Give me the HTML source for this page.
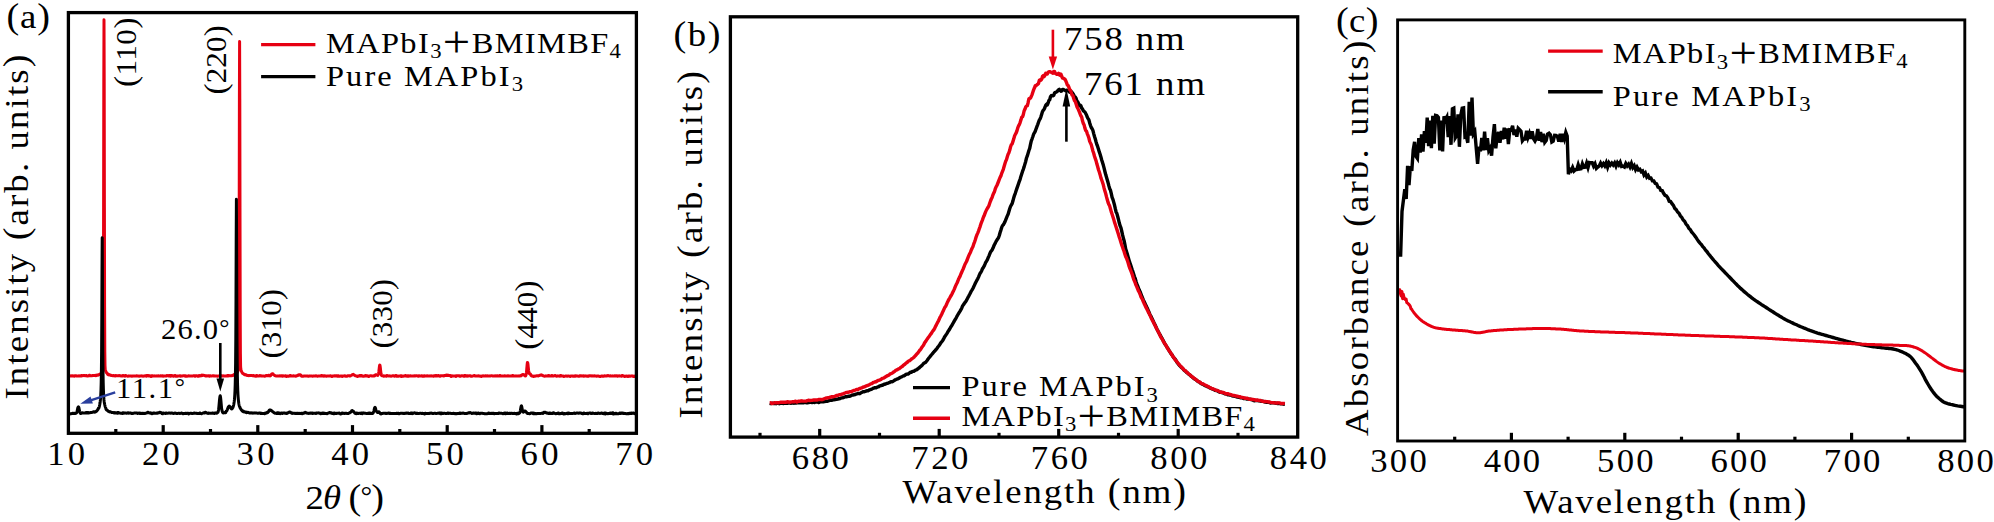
<!DOCTYPE html>
<html lang="en">
<head>
<meta charset="utf-8">
<title>XRD, PL and absorbance of MAPbI3 films</title>
<style>
html,body{margin:0;padding:0;background:#fff;}
body{width:1994px;height:522px;overflow:hidden;}
svg{display:block;}
svg text{font-family:"Liberation Serif", "DejaVu Serif", serif;fill:#000;white-space:pre;}
</style>
</head>
<body>
<svg width="1994" height="522" viewBox="0 0 1994 522">
<rect x="0" y="0" width="1994" height="522" fill="#fff"/>
<g id="panel-a">
<polyline points="68.4,376.0 68.6,376.0 68.8,376.0 69.0,376.0 69.2,376.0 69.4,376.0 69.6,376.0 69.8,376.0 70.0,375.9 70.2,375.9 70.4,375.9 70.6,375.9 70.8,375.8 71.0,375.8 71.2,375.8 71.4,375.8 71.6,375.9 71.8,375.9 72.0,375.9 72.2,375.9 72.4,375.7 72.6,375.7 72.8,375.7 73.0,375.7 73.2,376.0 73.4,376.0 73.6,376.0 73.8,376.0 74.0,376.2 74.2,376.2 74.4,376.2 74.6,376.2 74.8,375.8 75.0,375.8 75.2,375.8 75.4,375.8 75.6,375.8 75.8,375.8 76.0,375.8 76.2,375.8 76.4,376.1 76.6,376.1 76.8,376.1 77.0,376.1 77.2,376.0 77.4,376.0 77.6,376.0 77.8,376.0 78.0,376.0 78.2,376.0 78.4,376.0 78.6,376.0 78.8,375.7 79.0,375.7 79.2,375.7 79.4,375.7 79.6,375.9 79.8,375.9 80.0,375.9 80.2,375.9 80.4,376.1 80.6,376.1 80.8,376.1 81.0,376.1 81.2,375.6 81.4,375.6 81.6,375.6 81.8,375.6 82.0,375.8 82.2,375.8 82.4,375.8 82.6,375.8 82.8,375.5 83.0,375.5 83.2,375.5 83.4,375.5 83.6,375.6 83.8,375.6 84.0,375.6 84.2,375.6 84.4,375.5 84.6,375.5 84.8,375.5 85.0,375.5 85.2,375.8 85.4,375.8 85.6,375.8 85.8,375.8 86.0,375.6 86.2,375.6 86.4,375.6 86.6,375.6 86.8,375.9 87.0,375.9 87.2,375.9 87.4,375.9 87.6,375.9 87.8,375.9 88.0,375.9 88.2,375.9 88.4,375.8 88.6,375.8 88.8,375.8 89.0,375.8 89.2,375.3 89.4,375.3 89.6,375.3 89.8,375.3 90.0,375.7 90.2,375.7 90.4,375.7 90.6,375.7 90.8,375.8 91.0,375.8 91.2,375.8 91.4,375.7 91.6,375.8 91.8,375.8 92.0,375.8 92.2,375.8 92.4,375.4 92.6,375.4 92.8,375.4 93.0,375.4 93.2,375.6 93.4,375.6 93.6,375.5 93.8,375.5 94.0,375.4 94.2,375.4 94.4,375.4 94.6,375.4 94.8,375.4 95.0,375.4 95.2,375.3 95.4,375.3 95.6,375.7 95.8,375.7 96.0,375.7 96.2,375.6 96.4,375.2 96.6,375.2 96.8,375.1 97.0,375.1 97.2,375.2 97.4,375.2 97.6,375.1 97.8,375.1 98.0,375.2 98.2,375.2 98.4,375.1 98.6,375.1 98.8,374.7 99.0,374.6 99.2,374.5 99.4,374.4 99.6,374.4 99.8,374.3 100.0,374.2 100.2,374.0 100.4,373.9 100.6,373.7 100.8,373.5 101.0,373.3 101.2,373.0 101.4,372.8 101.6,372.4 101.8,372.1 102.0,371.4 102.2,370.9 102.4,370.4 102.6,369.8 102.8,369.1 103.0,365.9 103.2,352.4 103.4,307.0 103.6,207.8 103.8,81.3 104.0,19.8 104.2,81.3 104.4,207.2 104.6,306.7 104.8,352.0 105.0,365.6 105.2,369.2 105.4,370.2 105.6,370.9 105.8,371.4 106.0,371.7 106.2,372.1 106.4,372.5 106.6,372.8 106.8,372.9 107.0,373.1 107.2,373.4 107.4,373.6 107.6,374.3 107.8,374.5 108.0,374.6 108.2,374.7 108.4,374.6 108.6,374.7 108.8,374.8 109.0,374.9 109.2,374.5 109.4,374.6 109.6,374.7 109.8,374.7 110.0,375.1 110.2,375.1 110.4,375.2 110.6,375.2 110.8,375.4 111.0,375.4 111.2,375.4 111.4,375.5 111.6,375.3 111.8,375.4 112.0,375.4 112.2,375.4 112.4,375.6 112.6,375.7 112.8,375.7 113.0,375.7 113.2,375.5 113.4,375.6 113.6,375.6 113.8,375.6 114.0,375.8 114.2,375.8 114.4,375.8 114.6,375.8 114.8,376.0 115.0,376.0 115.2,376.0 115.4,376.0 115.6,375.6 115.8,375.6 116.0,375.6 116.2,375.6 116.4,375.8 116.6,375.8 116.8,375.8 117.0,375.8 117.2,375.7 117.4,375.7 117.6,375.7 117.8,375.7 118.0,375.8 118.2,375.8 118.4,375.8 118.6,375.8 118.8,375.6 119.0,375.6 119.2,375.6 119.4,375.6 119.6,375.7 119.8,375.7 120.0,375.7 120.2,375.7 120.4,375.8 120.6,375.8 120.8,375.8 121.0,375.8 121.2,376.1 121.4,376.1 121.6,376.1 121.8,376.1 122.0,376.1 122.2,376.1 122.4,376.1 122.6,376.1 122.8,375.6 123.0,375.6 123.2,375.6 123.4,375.6 123.6,375.7 123.8,375.7 124.0,375.7 124.2,375.7 124.4,376.0 124.6,376.0 124.8,376.0 125.0,376.1 125.2,375.5 125.4,375.5 125.6,375.5 125.8,375.5 126.0,375.8 126.2,375.8 126.4,375.8 126.6,375.8 126.8,375.9 127.0,375.9 127.2,375.9 127.4,375.9 127.6,376.2 127.8,376.2 128.0,376.2 128.2,376.2 128.4,376.1 128.6,376.1 128.8,376.1 129.0,376.1 129.2,375.9 129.4,375.9 129.6,375.9 129.8,375.9 130.0,375.9 130.2,375.9 130.4,375.9 130.6,375.9 130.8,375.9 131.0,375.9 131.2,375.9 131.4,375.9 131.6,376.3 131.8,376.3 132.0,376.3 132.2,376.3 132.4,375.9 132.6,375.9 132.8,375.9 133.0,375.9 133.2,375.9 133.4,375.9 133.6,375.9 133.8,375.9 134.0,376.0 134.2,376.0 134.4,376.0 134.6,376.0 134.8,375.9 135.0,375.9 135.2,375.9 135.4,375.9 135.6,375.9 135.8,375.9 136.0,375.9 136.2,375.9 136.4,375.7 136.6,375.7 136.8,375.7 137.0,375.7 137.2,376.0 137.4,376.0 137.6,376.0 137.8,376.0 138.0,375.9 138.2,375.9 138.4,375.9 138.6,375.9 138.8,376.2 139.0,376.2 139.2,376.2 139.4,376.2 139.6,376.1 139.8,376.1 140.0,376.1 140.2,376.1 140.4,376.0 140.6,376.0 140.8,376.0 141.0,376.0 141.2,376.1 141.4,376.1 141.6,376.1 141.8,376.1 142.0,375.9 142.2,375.9 142.4,375.9 142.6,375.9 142.8,376.2 143.0,376.2 143.2,376.2 143.4,376.2 143.6,376.0 143.8,376.0 144.0,376.0 144.2,376.0 144.4,376.1 144.6,376.1 144.8,376.1 145.0,376.1 145.2,375.7 145.4,375.7 145.6,375.7 145.8,375.7 146.0,376.0 146.2,376.0 146.4,376.0 146.6,376.1 146.8,375.6 147.0,375.6 147.2,375.6 147.4,375.6 147.6,375.5 147.8,375.5 148.0,375.5 148.2,375.5 148.4,375.9 148.6,375.9 148.8,375.9 149.0,375.9 149.2,375.8 149.4,375.8 149.6,375.8 149.8,375.8 150.0,376.0 150.2,376.0 150.4,376.0 150.6,376.0 150.8,376.5 151.0,376.5 151.2,376.5 151.4,376.5 151.6,375.8 151.8,375.8 152.0,375.8 152.2,375.8 152.4,375.8 152.6,375.8 152.8,375.8 153.0,375.8 153.2,376.0 153.4,376.0 153.6,376.0 153.8,376.0 154.0,376.1 154.2,376.1 154.4,376.1 154.6,376.1 154.8,375.9 155.0,375.9 155.2,375.9 155.4,375.9 155.6,375.9 155.8,375.9 156.0,375.9 156.2,375.9 156.4,376.1 156.6,376.1 156.8,376.1 157.0,376.1 157.2,376.1 157.4,376.1 157.6,376.1 157.8,376.1 158.0,375.8 158.2,375.8 158.4,375.8 158.6,375.8 158.8,376.0 159.0,376.0 159.2,376.0 159.4,376.0 159.6,376.0 159.8,376.0 160.0,376.0 160.2,376.0 160.4,375.7 160.6,375.7 160.8,375.7 161.0,375.7 161.2,376.0 161.4,376.0 161.6,376.0 161.8,376.0 162.0,375.8 162.2,375.8 162.4,375.8 162.6,375.8 162.8,376.2 163.0,376.2 163.2,376.2 163.4,376.2 163.6,376.0 163.8,376.0 164.0,376.0 164.2,376.0 164.4,376.0 164.6,376.0 164.8,376.0 165.0,376.0 165.2,375.9 165.4,375.9 165.6,375.9 165.8,375.9 166.0,376.0 166.2,376.0 166.4,376.0 166.6,376.0 166.8,375.5 167.0,375.5 167.2,375.5 167.4,375.5 167.6,375.7 167.8,375.7 168.0,375.7 168.2,375.7 168.4,376.1 168.6,376.1 168.8,376.1 169.0,376.1 169.2,375.5 169.4,375.5 169.6,375.5 169.8,375.5 170.0,376.2 170.2,376.2 170.4,376.2 170.6,376.2 170.8,375.6 171.0,375.6 171.2,375.6 171.4,375.6 171.6,376.1 171.8,376.1 172.0,376.1 172.2,376.1 172.4,375.8 172.6,375.8 172.8,375.8 173.0,375.8 173.2,376.2 173.4,376.2 173.6,376.2 173.8,376.2 174.0,376.0 174.2,376.0 174.4,376.0 174.6,376.0 174.8,375.6 175.0,375.6 175.2,375.6 175.4,375.6 175.6,376.3 175.8,376.3 176.0,376.3 176.2,376.3 176.4,376.3 176.6,376.3 176.8,376.3 177.0,376.3 177.2,376.0 177.4,376.0 177.6,376.0 177.8,376.0 178.0,375.9 178.2,375.9 178.4,375.9 178.6,375.9 178.8,375.9 179.0,375.9 179.2,375.9 179.4,375.9 179.6,375.8 179.8,375.8 180.0,375.8 180.2,375.8 180.4,376.2 180.6,376.2 180.8,376.2 181.0,376.2 181.2,375.9 181.4,375.9 181.6,375.9 181.8,375.9 182.0,376.0 182.2,376.0 182.4,376.0 182.6,376.0 182.8,375.8 183.0,375.8 183.2,375.8 183.4,375.8 183.6,375.8 183.8,375.8 184.0,375.8 184.2,375.8 184.4,375.7 184.6,375.7 184.8,375.7 185.0,375.7 185.2,376.3 185.4,376.3 185.6,376.3 185.8,376.3 186.0,375.9 186.2,375.9 186.4,375.9 186.6,375.9 186.8,376.2 187.0,376.2 187.2,376.2 187.4,376.2 187.6,376.0 187.8,376.0 188.0,376.0 188.2,376.0 188.4,375.8 188.6,375.8 188.8,375.8 189.0,375.8 189.2,375.9 189.4,375.9 189.6,375.9 189.8,375.9 190.0,375.9 190.2,375.9 190.4,375.9 190.6,375.9 190.8,376.0 191.0,376.0 191.2,376.0 191.4,376.0 191.6,375.9 191.8,375.9 192.0,375.9 192.2,375.9 192.4,375.9 192.6,375.9 192.8,375.9 193.0,375.9 193.2,375.7 193.4,375.7 193.6,375.7 193.8,375.7 194.0,375.8 194.2,375.8 194.4,375.8 194.6,375.8 194.8,376.3 195.0,376.3 195.2,376.3 195.4,376.3 195.6,375.8 195.8,375.8 196.0,375.8 196.2,375.8 196.4,375.7 196.6,375.7 196.8,375.7 197.0,375.7 197.2,376.0 197.4,376.0 197.6,376.0 197.8,376.0 198.0,376.3 198.2,376.3 198.4,376.3 198.6,376.3 198.8,375.7 199.0,375.6 199.2,375.6 199.4,375.6 199.6,375.9 199.8,375.9 200.0,375.9 200.2,375.9 200.4,375.8 200.6,375.7 200.8,375.7 201.0,375.6 201.2,375.3 201.4,375.3 201.6,375.2 201.8,375.1 202.0,375.6 202.2,375.5 202.4,375.4 202.6,375.4 202.8,375.2 203.0,375.2 203.2,375.2 203.4,375.2 203.6,375.3 203.8,375.3 204.0,375.4 204.2,375.5 204.4,375.4 204.6,375.5 204.8,375.5 205.0,375.6 205.2,375.9 205.4,376.0 205.6,376.0 205.8,376.0 206.0,375.8 206.2,375.8 206.4,375.8 206.6,375.8 206.8,375.9 207.0,375.9 207.2,375.9 207.4,375.9 207.6,375.7 207.8,375.7 208.0,375.7 208.2,375.7 208.4,375.7 208.6,375.7 208.8,375.7 209.0,375.7 209.2,376.2 209.4,376.2 209.6,376.2 209.8,376.2 210.0,375.8 210.2,375.8 210.4,375.8 210.6,375.8 210.8,376.0 211.0,376.0 211.2,376.0 211.4,376.0 211.6,375.9 211.8,375.9 212.0,375.9 212.2,375.9 212.4,375.8 212.6,375.8 212.8,375.8 213.0,375.8 213.2,375.8 213.4,375.8 213.6,375.8 213.8,375.8 214.0,376.1 214.2,376.1 214.4,376.1 214.6,376.1 214.8,375.9 215.0,375.9 215.2,375.9 215.4,375.9 215.6,375.9 215.8,375.9 216.0,375.9 216.2,375.9 216.4,375.9 216.6,375.9 216.8,375.9 217.0,375.9 217.2,376.2 217.4,376.2 217.6,376.2 217.8,376.2 218.0,376.1 218.2,376.1 218.4,376.1 218.6,376.1 218.8,376.0 219.0,376.0 219.2,376.0 219.4,376.0 219.6,375.8 219.8,375.8 220.0,375.8 220.2,375.8 220.4,375.6 220.6,375.6 220.8,375.6 221.0,375.6 221.2,376.1 221.4,376.1 221.6,376.1 221.8,376.1 222.0,376.1 222.2,376.1 222.4,376.1 222.6,376.1 222.8,375.8 223.0,375.8 223.2,375.8 223.4,375.8 223.6,376.0 223.8,376.0 224.0,376.0 224.2,376.0 224.4,376.0 224.6,376.0 224.8,376.0 225.0,376.0 225.2,376.0 225.4,376.0 225.6,376.0 225.8,376.0 226.0,376.0 226.2,376.0 226.4,376.0 226.6,376.0 226.8,375.7 227.0,375.7 227.2,375.6 227.4,375.6 227.6,376.1 227.8,376.1 228.0,376.0 228.2,376.0 228.4,375.4 228.6,375.4 228.8,375.4 229.0,375.4 229.2,375.8 229.4,375.8 229.6,375.8 229.8,375.8 230.0,375.7 230.2,375.7 230.4,375.7 230.6,375.7 230.8,375.7 231.0,375.7 231.2,375.7 231.4,375.6 231.6,375.8 231.8,375.8 232.0,375.8 232.2,375.8 232.4,375.6 232.6,375.6 232.8,375.6 233.0,375.5 233.2,374.9 233.4,374.9 233.6,374.8 233.8,374.7 234.0,374.6 234.2,374.5 234.4,374.4 234.6,374.3 234.8,374.8 235.0,374.7 235.2,374.6 235.4,374.5 235.6,374.0 235.8,373.8 236.0,373.6 236.2,373.5 236.4,373.5 236.6,373.3 236.8,373.0 237.0,372.7 237.2,372.6 237.4,372.3 237.6,371.9 237.8,371.4 238.0,370.3 238.2,369.7 238.4,368.7 238.6,365.7 238.8,352.9 239.0,310.3 239.2,217.1 239.4,98.4 239.6,41.4 239.8,99.0 240.0,217.6 240.2,310.8 240.4,353.4 240.6,366.1 240.8,369.1 241.0,370.1 241.2,370.6 241.4,371.2 241.6,371.6 241.8,372.0 242.0,372.4 242.2,372.8 242.4,373.0 242.6,373.3 242.8,373.3 243.0,373.5 243.2,373.7 243.4,373.8 243.6,373.8 243.8,374.0 244.0,374.1 244.2,374.2 244.4,374.6 244.6,374.7 244.8,374.8 245.0,374.8 245.2,374.7 245.4,374.8 245.6,374.8 245.8,374.9 246.0,374.8 246.2,374.8 246.4,374.9 246.6,374.9 246.8,375.4 247.0,375.5 247.2,375.5 247.4,375.5 247.6,375.4 247.8,375.4 248.0,375.5 248.2,375.5 248.4,375.6 248.6,375.6 248.8,375.7 249.0,375.7 249.2,375.4 249.4,375.4 249.6,375.4 249.8,375.4 250.0,375.5 250.2,375.5 250.4,375.5 250.6,375.5 250.8,375.5 251.0,375.5 251.2,375.5 251.4,375.5 251.6,375.5 251.8,375.5 252.0,375.6 252.2,375.6 252.4,375.8 252.6,375.8 252.8,375.8 253.0,375.8 253.2,375.6 253.4,375.6 253.6,375.6 253.8,375.6 254.0,375.9 254.2,375.9 254.4,375.9 254.6,375.9 254.8,375.9 255.0,375.9 255.2,375.9 255.4,375.9 255.6,376.3 255.8,376.3 256.0,376.3 256.2,376.3 256.4,375.6 256.6,375.6 256.8,375.6 257.0,375.6 257.2,376.1 257.4,376.1 257.6,376.1 257.8,376.1 258.0,375.9 258.2,375.9 258.4,375.9 258.6,375.9 258.8,375.9 259.0,375.9 259.2,375.9 259.4,375.9 259.6,375.6 259.8,375.6 260.0,375.6 260.2,375.6 260.4,375.8 260.6,375.8 260.8,375.8 261.0,375.8 261.2,376.1 261.4,376.1 261.6,376.1 261.8,376.1 262.0,375.9 262.2,375.9 262.4,375.9 262.6,375.9 262.8,375.9 263.0,375.9 263.2,375.9 263.4,375.9 263.6,375.9 263.8,375.9 264.0,375.9 264.2,375.9 264.4,376.2 264.6,376.2 264.8,376.2 265.0,376.2 265.2,375.9 265.4,375.9 265.6,375.9 265.8,375.9 266.0,375.5 266.2,375.5 266.4,375.5 266.6,375.5 266.8,375.8 267.0,375.8 267.2,375.8 267.4,375.8 267.6,375.5 267.8,375.5 268.0,375.5 268.2,375.5 268.4,375.2 268.6,375.2 268.8,375.2 269.0,375.2 269.2,375.8 269.4,375.7 269.6,375.7 269.8,375.6 270.0,375.9 270.2,375.8 270.4,375.7 270.6,375.6 270.8,375.1 271.0,374.9 271.2,374.8 271.4,374.6 271.6,374.1 271.8,374.0 272.0,373.8 272.2,373.8 272.4,373.8 272.6,373.8 272.8,373.8 273.0,373.9 273.2,374.5 273.4,374.6 273.6,374.8 273.8,375.0 274.0,375.0 274.2,375.1 274.4,375.3 274.6,375.5 274.8,375.6 275.0,375.7 275.2,375.7 275.4,375.8 275.6,375.8 275.8,375.9 276.0,375.9 276.2,375.9 276.4,376.0 276.6,376.0 276.8,376.0 277.0,376.0 277.2,376.1 277.4,376.1 277.6,376.1 277.8,376.1 278.0,376.1 278.2,376.1 278.4,376.1 278.6,376.1 278.8,376.0 279.0,376.0 279.2,376.0 279.4,376.0 279.6,375.7 279.8,375.7 280.0,375.7 280.2,375.7 280.4,376.1 280.6,376.1 280.8,376.1 281.0,376.1 281.2,375.8 281.4,375.8 281.6,375.8 281.8,375.8 282.0,376.2 282.2,376.2 282.4,376.2 282.6,376.2 282.8,375.7 283.0,375.7 283.2,375.7 283.4,375.7 283.6,375.9 283.8,375.9 284.0,375.9 284.2,375.9 284.4,376.0 284.6,376.0 284.8,376.0 285.0,376.0 285.2,375.7 285.4,375.7 285.6,375.7 285.8,375.7 286.0,376.4 286.2,376.4 286.4,376.4 286.6,376.4 286.8,376.3 287.0,376.3 287.2,376.3 287.4,376.3 287.6,375.9 287.8,375.9 288.0,375.9 288.2,375.9 288.4,376.2 288.6,376.2 288.8,376.2 289.0,376.2 289.2,376.1 289.4,376.1 289.6,376.1 289.8,376.1 290.0,375.4 290.2,375.4 290.4,375.4 290.6,375.4 290.8,376.0 291.0,376.0 291.2,376.0 291.4,376.0 291.6,376.0 291.8,376.0 292.0,376.0 292.2,376.0 292.4,376.0 292.6,376.0 292.8,376.0 293.0,376.0 293.2,375.7 293.4,375.7 293.6,375.7 293.8,375.7 294.0,375.9 294.2,375.9 294.4,375.9 294.6,375.9 294.8,375.9 295.0,375.9 295.2,375.9 295.4,375.9 295.6,376.2 295.8,376.2 296.0,376.2 296.2,376.1 296.4,375.9 296.6,375.8 296.8,375.8 297.0,375.7 297.2,375.5 297.4,375.4 297.6,375.3 297.8,375.2 298.0,375.4 298.2,375.3 298.4,375.2 298.6,375.2 298.8,374.7 299.0,374.7 299.2,374.7 299.4,374.7 299.6,374.8 299.8,374.9 300.0,375.0 300.2,375.1 300.4,374.9 300.6,375.0 300.8,375.1 301.0,375.2 301.2,376.0 301.4,376.1 301.6,376.2 301.8,376.2 302.0,376.1 302.2,376.1 302.4,376.2 302.6,376.2 302.8,376.2 303.0,376.2 303.2,376.2 303.4,376.2 303.6,376.1 303.8,376.1 304.0,376.1 304.2,376.1 304.4,376.0 304.6,376.0 304.8,376.0 305.0,376.0 305.2,376.0 305.4,376.0 305.6,376.0 305.8,376.0 306.0,375.9 306.2,375.9 306.4,375.9 306.6,375.9 306.8,375.9 307.0,375.9 307.2,375.9 307.4,375.9 307.6,376.0 307.8,376.0 308.0,376.0 308.2,376.0 308.4,376.3 308.6,376.3 308.8,376.3 309.0,376.3 309.2,376.1 309.4,376.1 309.6,376.1 309.8,376.1 310.0,376.0 310.2,376.0 310.4,376.0 310.6,376.0 310.8,375.9 311.0,375.9 311.2,375.9 311.4,375.9 311.6,375.9 311.8,375.9 312.0,375.9 312.2,375.9 312.4,376.3 312.6,376.3 312.8,376.3 313.0,376.3 313.2,376.1 313.4,376.1 313.6,376.1 313.8,376.1 314.0,376.0 314.2,376.0 314.4,376.0 314.6,376.0 314.8,375.9 315.0,375.9 315.2,375.9 315.4,375.9 315.6,375.7 315.8,375.7 316.0,375.7 316.2,375.7 316.4,376.0 316.6,376.0 316.8,376.0 317.0,376.0 317.2,376.2 317.4,376.2 317.6,376.2 317.8,376.2 318.0,375.9 318.2,375.9 318.4,375.9 318.6,375.9 318.8,375.9 319.0,375.9 319.2,375.9 319.4,375.9 319.6,375.9 319.8,375.9 320.0,375.9 320.2,375.9 320.4,376.0 320.6,376.0 320.8,376.0 321.0,376.0 321.2,375.6 321.4,375.6 321.6,375.6 321.8,375.6 322.0,375.9 322.2,375.9 322.4,375.9 322.6,375.9 322.8,375.8 323.0,375.8 323.2,375.8 323.4,375.8 323.6,376.2 323.8,376.2 324.0,376.2 324.2,376.2 324.4,375.8 324.6,375.8 324.8,375.8 325.0,375.8 325.2,376.1 325.4,376.1 325.6,376.1 325.8,376.1 326.0,376.3 326.2,376.3 326.4,376.3 326.6,376.3 326.8,375.9 327.0,375.9 327.2,375.9 327.4,375.9 327.6,375.9 327.8,375.9 328.0,375.9 328.2,375.9 328.4,376.0 328.6,376.0 328.8,376.0 329.0,376.0 329.2,376.0 329.4,376.0 329.6,376.0 329.8,376.0 330.0,375.8 330.2,375.8 330.4,375.8 330.6,375.8 330.8,376.1 331.0,376.1 331.2,376.1 331.4,376.1 331.6,376.4 331.8,376.4 332.0,376.4 332.2,376.4 332.4,375.9 332.6,375.9 332.8,375.9 333.0,375.9 333.2,376.0 333.4,376.0 333.6,376.0 333.8,376.0 334.0,375.8 334.2,375.8 334.4,375.8 334.6,375.8 334.8,376.1 335.0,376.1 335.2,376.1 335.4,376.1 335.6,375.7 335.8,375.7 336.0,375.7 336.2,375.7 336.4,375.8 336.6,375.8 336.8,375.8 337.0,375.8 337.2,376.3 337.4,376.3 337.6,376.3 337.8,376.3 338.0,375.8 338.2,375.8 338.4,375.8 338.6,375.8 338.8,376.2 339.0,376.2 339.2,376.2 339.4,376.2 339.6,376.3 339.8,376.3 340.0,376.3 340.2,376.3 340.4,376.1 340.6,376.1 340.8,376.1 341.0,376.1 341.2,376.1 341.4,376.1 341.6,376.1 341.8,376.1 342.0,376.4 342.2,376.4 342.4,376.4 342.6,376.4 342.8,376.0 343.0,376.0 343.2,376.0 343.4,376.0 343.6,375.9 343.8,375.9 344.0,375.9 344.2,375.9 344.4,375.7 344.6,375.7 344.8,375.7 345.0,375.7 345.2,376.0 345.4,376.0 345.6,376.0 345.8,376.0 346.0,376.3 346.2,376.3 346.4,376.3 346.6,376.3 346.8,376.2 347.0,376.2 347.2,376.2 347.4,376.2 347.6,375.8 347.8,375.8 348.0,375.8 348.2,375.8 348.4,375.8 348.6,375.8 348.8,375.8 349.0,375.8 349.2,375.9 349.4,375.9 349.6,375.8 349.8,375.8 350.0,376.0 350.2,375.9 350.4,375.9 350.6,375.8 350.8,375.6 351.0,375.5 351.2,375.4 351.4,375.2 351.6,375.2 351.8,375.1 352.0,374.9 352.2,374.8 352.4,374.7 352.6,374.6 352.8,374.6 353.0,374.6 353.2,374.4 353.4,374.5 353.6,374.6 353.8,374.7 354.0,374.9 354.2,375.0 354.4,375.1 354.6,375.3 354.8,375.5 355.0,375.6 355.2,375.7 355.4,375.8 355.6,375.8 355.8,375.8 356.0,375.9 356.2,375.9 356.4,376.1 356.6,376.1 356.8,376.1 357.0,376.1 357.2,376.4 357.4,376.4 357.6,376.4 357.8,376.4 358.0,376.1 358.2,376.1 358.4,376.1 358.6,376.1 358.8,376.0 359.0,376.0 359.2,376.0 359.4,376.0 359.6,375.6 359.8,375.6 360.0,375.6 360.2,375.6 360.4,376.1 360.6,376.1 360.8,376.1 361.0,376.1 361.2,375.6 361.4,375.6 361.6,375.6 361.8,375.6 362.0,375.7 362.2,375.7 362.4,375.7 362.6,375.7 362.8,376.2 363.0,376.2 363.2,376.2 363.4,376.2 363.6,376.2 363.8,376.2 364.0,376.2 364.2,376.2 364.4,376.0 364.6,376.0 364.8,376.0 365.0,376.0 365.2,375.6 365.4,375.6 365.6,375.6 365.8,375.6 366.0,375.9 366.2,375.9 366.4,375.9 366.6,375.9 366.8,375.8 367.0,375.8 367.2,375.8 367.4,375.8 367.6,376.1 367.8,376.1 368.0,376.1 368.2,376.1 368.4,376.5 368.6,376.5 368.8,376.5 369.0,376.5 369.2,376.0 369.4,376.0 369.6,376.0 369.8,376.0 370.0,375.8 370.2,375.8 370.4,375.8 370.6,375.8 370.8,375.7 371.0,375.7 371.2,375.7 371.4,375.7 371.6,376.0 371.8,376.0 372.0,376.0 372.2,376.0 372.4,376.0 372.6,376.0 372.8,376.0 373.0,376.0 373.2,375.7 373.4,375.7 373.6,375.7 373.8,375.7 374.0,376.0 374.2,375.9 374.4,375.9 374.6,375.8 374.8,375.4 375.0,375.3 375.2,375.1 375.4,374.9 375.6,375.2 375.8,375.1 376.0,374.9 376.2,374.8 376.4,374.7 376.6,374.7 376.8,374.8 377.0,374.9 377.2,375.1 377.4,375.2 377.6,375.3 377.8,375.4 378.0,375.0 378.2,374.7 378.4,374.2 378.6,373.2 378.8,372.0 379.0,370.3 379.2,368.5 379.4,366.7 379.6,365.4 379.8,365.0 380.0,365.4 380.2,366.6 380.4,368.3 380.6,370.2 380.8,371.9 381.0,373.4 381.2,374.4 381.4,375.1 381.6,375.5 381.8,375.7 382.0,375.6 382.2,375.7 382.4,375.7 382.6,375.7 382.8,375.7 383.0,375.7 383.2,375.7 383.4,375.7 383.6,376.2 383.8,376.2 384.0,376.2 384.2,376.2 384.4,376.0 384.6,376.0 384.8,376.0 385.0,376.0 385.2,376.0 385.4,376.0 385.6,376.0 385.8,376.0 386.0,376.2 386.2,376.2 386.4,376.2 386.6,376.2 386.8,375.6 387.0,375.6 387.2,375.6 387.4,375.6 387.6,375.8 387.8,375.8 388.0,375.8 388.2,375.8 388.4,376.0 388.6,376.0 388.8,376.0 389.0,376.0 389.2,376.1 389.4,376.1 389.6,376.1 389.8,376.1 390.0,375.9 390.2,375.9 390.4,375.9 390.6,375.9 390.8,376.2 391.0,376.2 391.2,376.2 391.4,376.2 391.6,376.0 391.8,376.0 392.0,376.0 392.2,376.0 392.4,375.7 392.6,375.7 392.8,375.7 393.0,375.7 393.2,375.8 393.4,375.8 393.6,375.8 393.8,375.8 394.0,376.2 394.2,376.2 394.4,376.2 394.6,376.2 394.8,376.1 395.0,376.1 395.2,376.1 395.4,376.1 395.6,375.6 395.8,375.6 396.0,375.6 396.2,375.6 396.4,376.3 396.6,376.3 396.8,376.3 397.0,376.3 397.2,376.1 397.4,376.1 397.6,376.1 397.8,376.1 398.0,376.3 398.2,376.3 398.4,376.3 398.6,376.3 398.8,375.9 399.0,375.9 399.2,375.9 399.4,375.9 399.6,375.9 399.8,375.9 400.0,375.9 400.2,375.9 400.4,375.8 400.6,375.8 400.8,375.8 401.0,375.8 401.2,376.6 401.4,376.6 401.6,376.6 401.8,376.6 402.0,376.0 402.2,376.0 402.4,376.0 402.6,376.0 402.8,376.3 403.0,376.3 403.2,376.3 403.4,376.3 403.6,375.9 403.8,375.9 404.0,375.9 404.2,375.9 404.4,376.0 404.6,376.0 404.8,376.0 405.0,376.0 405.2,375.6 405.4,375.6 405.6,375.6 405.8,375.6 406.0,375.9 406.2,375.9 406.4,375.9 406.6,375.9 406.8,376.2 407.0,376.2 407.2,376.2 407.4,376.2 407.6,375.7 407.8,375.7 408.0,375.7 408.2,375.7 408.4,376.2 408.6,376.2 408.8,376.2 409.0,376.2 409.2,376.1 409.4,376.1 409.6,376.1 409.8,376.1 410.0,375.8 410.2,375.8 410.4,375.8 410.6,375.8 410.8,375.9 411.0,375.9 411.2,375.9 411.4,375.9 411.6,375.9 411.8,375.9 412.0,375.9 412.2,375.9 412.4,376.0 412.6,376.0 412.8,376.0 413.0,376.0 413.2,375.9 413.4,375.9 413.6,375.9 413.8,375.9 414.0,375.8 414.2,375.8 414.4,375.8 414.6,375.8 414.8,375.9 415.0,375.9 415.2,375.9 415.4,375.9 415.6,375.8 415.8,375.8 416.0,375.8 416.2,375.8 416.4,375.7 416.6,375.7 416.8,375.7 417.0,375.7 417.2,376.0 417.4,376.0 417.6,376.0 417.8,376.0 418.0,376.2 418.2,376.2 418.4,376.2 418.6,376.2 418.8,375.7 419.0,375.7 419.2,375.7 419.4,375.7 419.6,376.0 419.8,376.0 420.0,376.0 420.2,376.0 420.4,375.9 420.6,375.9 420.8,375.9 421.0,375.9 421.2,375.8 421.4,375.8 421.6,375.8 421.8,375.8 422.0,376.2 422.2,376.2 422.4,376.2 422.6,376.2 422.8,375.9 423.0,375.9 423.2,375.9 423.4,375.9 423.6,376.3 423.8,376.3 424.0,376.3 424.2,376.3 424.4,375.8 424.6,375.8 424.8,375.8 425.0,375.8 425.2,376.1 425.4,376.1 425.6,376.1 425.8,376.1 426.0,375.9 426.2,375.9 426.4,375.9 426.6,375.9 426.8,375.8 427.0,375.8 427.2,375.8 427.4,375.8 427.6,376.1 427.8,376.1 428.0,376.1 428.2,376.1 428.4,376.0 428.6,376.0 428.8,376.0 429.0,376.0 429.2,376.1 429.4,376.1 429.6,376.1 429.8,376.1 430.0,376.0 430.2,376.0 430.4,376.0 430.6,376.0 430.8,375.8 431.0,375.8 431.2,375.8 431.4,375.8 431.6,376.0 431.8,376.0 432.0,376.0 432.2,376.0 432.4,376.0 432.6,376.0 432.8,376.0 433.0,376.0 433.2,376.2 433.4,376.2 433.6,376.2 433.8,376.2 434.0,375.8 434.2,375.8 434.4,375.8 434.6,375.8 434.8,376.0 435.0,376.0 435.2,376.0 435.4,376.0 435.6,375.6 435.8,375.6 436.0,375.6 436.2,375.6 436.4,376.1 436.6,376.1 436.8,376.1 437.0,376.1 437.2,375.8 437.4,375.8 437.6,375.8 437.8,375.8 438.0,375.6 438.2,375.6 438.4,375.6 438.6,375.6 438.8,376.0 439.0,376.0 439.2,376.0 439.4,376.0 439.6,376.2 439.8,376.2 440.0,376.2 440.2,376.2 440.4,375.7 440.6,375.7 440.8,375.7 441.0,375.7 441.2,375.8 441.4,375.8 441.6,375.8 441.8,375.8 442.0,375.8 442.2,375.8 442.4,375.8 442.6,375.8 442.8,375.7 443.0,375.7 443.2,375.7 443.4,375.7 443.6,376.0 443.8,376.0 444.0,376.0 444.2,375.9 444.4,375.6 444.6,375.6 444.8,375.5 445.0,375.5 445.2,375.5 445.4,375.4 445.6,375.3 445.8,375.3 446.0,375.5 446.2,375.4 446.4,375.4 446.6,375.4 446.8,375.0 447.0,375.0 447.2,375.0 447.4,375.1 447.6,375.4 447.8,375.4 448.0,375.5 448.2,375.5 448.4,375.3 448.6,375.3 448.8,375.4 449.0,375.5 449.2,375.5 449.4,375.5 449.6,375.6 449.8,375.6 450.0,375.5 450.2,375.5 450.4,375.5 450.6,375.6 450.8,376.4 451.0,376.4 451.2,376.4 451.4,376.4 451.6,375.9 451.8,375.9 452.0,375.9 452.2,375.9 452.4,376.1 452.6,376.1 452.8,376.1 453.0,376.1 453.2,376.0 453.4,376.0 453.6,376.0 453.8,376.0 454.0,376.0 454.2,376.0 454.4,376.0 454.6,376.0 454.8,376.0 455.0,376.0 455.2,376.0 455.4,376.0 455.6,376.4 455.8,376.4 456.0,376.4 456.2,376.4 456.4,375.8 456.6,375.8 456.8,375.8 457.0,375.8 457.2,375.7 457.4,375.7 457.6,375.7 457.8,375.7 458.0,375.8 458.2,375.8 458.4,375.8 458.6,375.8 458.8,375.7 459.0,375.7 459.2,375.7 459.4,375.7 459.6,376.2 459.8,376.2 460.0,376.2 460.2,376.2 460.4,376.2 460.6,376.2 460.8,376.2 461.0,376.2 461.2,375.8 461.4,375.8 461.6,375.8 461.8,375.8 462.0,375.7 462.2,375.7 462.4,375.7 462.6,375.7 462.8,375.9 463.0,375.9 463.2,375.9 463.4,375.9 463.6,376.3 463.8,376.3 464.0,376.3 464.2,376.3 464.4,375.4 464.6,375.4 464.8,375.4 465.0,375.4 465.2,376.1 465.4,376.1 465.6,376.1 465.8,376.1 466.0,375.8 466.2,375.8 466.4,375.8 466.6,375.8 466.8,376.2 467.0,376.2 467.2,376.2 467.4,376.2 467.6,375.8 467.8,375.8 468.0,375.8 468.2,375.8 468.4,375.9 468.6,375.9 468.8,375.9 469.0,375.9 469.2,375.7 469.4,375.7 469.6,375.7 469.8,375.7 470.0,375.8 470.2,375.8 470.4,375.8 470.6,375.8 470.8,376.3 471.0,376.3 471.2,376.3 471.4,376.3 471.6,376.2 471.8,376.2 472.0,376.2 472.2,376.2 472.4,375.9 472.6,375.9 472.8,375.9 473.0,375.9 473.2,375.8 473.4,375.8 473.6,375.8 473.8,375.8 474.0,375.6 474.2,375.6 474.4,375.6 474.6,375.6 474.8,375.9 475.0,375.9 475.2,375.9 475.4,375.9 475.6,376.0 475.8,376.0 476.0,376.0 476.2,376.0 476.4,376.0 476.6,376.0 476.8,376.0 477.0,376.0 477.2,376.0 477.4,376.0 477.6,376.0 477.8,376.0 478.0,375.8 478.2,375.8 478.4,375.8 478.6,375.8 478.8,376.0 479.0,376.0 479.2,376.0 479.4,376.0 479.6,376.0 479.8,376.0 480.0,376.0 480.2,376.0 480.4,376.3 480.6,376.3 480.8,376.3 481.0,376.3 481.2,376.4 481.4,376.4 481.6,376.4 481.8,376.4 482.0,376.0 482.2,376.0 482.4,376.0 482.6,376.0 482.8,375.8 483.0,375.8 483.2,375.8 483.4,375.8 483.6,376.0 483.8,376.0 484.0,376.0 484.2,376.0 484.4,375.9 484.6,375.9 484.8,375.9 485.0,375.9 485.2,375.8 485.4,375.8 485.6,375.8 485.8,375.8 486.0,376.0 486.2,376.0 486.4,376.0 486.6,376.0 486.8,375.8 487.0,375.8 487.2,375.8 487.4,375.8 487.6,376.1 487.8,376.1 488.0,376.1 488.2,376.1 488.4,376.0 488.6,376.0 488.8,376.0 489.0,376.0 489.2,376.1 489.4,376.1 489.6,376.1 489.8,376.1 490.0,376.0 490.2,376.0 490.4,376.0 490.6,376.0 490.8,375.8 491.0,375.8 491.2,375.8 491.4,375.8 491.6,375.8 491.8,375.8 492.0,375.8 492.2,375.8 492.4,375.9 492.6,375.9 492.8,375.9 493.0,375.9 493.2,375.9 493.4,375.9 493.6,375.9 493.8,375.9 494.0,376.1 494.2,376.1 494.4,376.1 494.6,376.1 494.8,376.0 495.0,376.0 495.2,376.0 495.4,376.0 495.6,375.7 495.8,375.7 496.0,375.7 496.2,375.7 496.4,376.0 496.6,376.0 496.8,376.0 497.0,376.0 497.2,375.7 497.4,375.7 497.6,375.7 497.8,375.7 498.0,375.9 498.2,375.9 498.4,375.9 498.6,375.9 498.8,375.9 499.0,375.9 499.2,375.9 499.4,375.9 499.6,375.5 499.8,375.5 500.0,375.5 500.2,375.5 500.4,376.0 500.6,376.0 500.8,376.0 501.0,376.0 501.2,376.0 501.4,376.0 501.6,376.0 501.8,376.0 502.0,376.0 502.2,376.0 502.4,376.0 502.6,376.0 502.8,375.9 503.0,375.9 503.2,375.9 503.4,375.9 503.6,375.9 503.8,375.9 504.0,375.9 504.2,375.9 504.4,375.8 504.6,375.8 504.8,375.8 505.0,375.8 505.2,375.9 505.4,375.9 505.6,375.9 505.8,375.9 506.0,375.9 506.2,375.9 506.4,375.9 506.6,375.9 506.8,376.0 507.0,376.0 507.2,376.0 507.4,376.0 507.6,375.7 507.8,375.7 508.0,375.7 508.2,375.7 508.4,376.1 508.6,376.1 508.8,376.1 509.0,376.1 509.2,376.0 509.4,376.0 509.6,376.0 509.8,376.0 510.0,376.0 510.2,376.0 510.4,376.0 510.6,376.0 510.8,375.9 511.0,375.9 511.2,375.9 511.4,375.9 511.6,376.1 511.8,376.1 512.0,376.1 512.2,376.1 512.4,375.6 512.6,375.6 512.8,375.6 513.0,375.6 513.2,376.1 513.4,376.1 513.6,376.1 513.8,376.1 514.0,376.1 514.2,376.1 514.4,376.1 514.6,376.1 514.8,376.1 515.0,376.1 515.2,376.1 515.4,376.1 515.6,376.1 515.8,376.1 516.0,376.1 516.2,376.1 516.4,375.9 516.6,375.9 516.8,375.9 517.0,375.9 517.2,375.9 517.4,375.9 517.6,375.9 517.8,375.9 518.0,376.1 518.2,376.1 518.4,376.1 518.6,376.1 518.8,376.1 519.0,376.1 519.2,376.1 519.4,376.1 519.6,376.0 519.8,376.0 520.0,376.0 520.2,376.0 520.4,375.6 520.6,375.6 520.8,375.5 521.0,375.4 521.2,375.8 521.4,375.6 521.6,375.4 521.8,375.2 522.0,375.2 522.2,374.9 522.4,374.8 522.6,374.6 522.8,374.5 523.0,374.4 523.2,374.5 523.4,374.6 523.6,374.5 523.8,374.7 524.0,375.0 524.2,375.2 524.4,375.0 524.6,375.2 524.8,375.3 525.0,375.4 525.2,376.0 525.4,376.0 525.6,375.9 525.8,375.7 526.0,375.0 526.2,374.1 526.4,372.9 526.6,371.1 526.8,368.4 527.0,366.1 527.2,364.0 527.4,362.5 527.6,362.6 527.8,363.1 528.0,364.5 528.2,366.6 528.4,368.4 528.6,370.4 528.8,371.9 529.0,372.9 529.2,373.5 529.4,373.7 529.6,373.7 529.8,373.7 530.0,373.8 530.2,373.9 530.4,374.1 530.6,374.3 530.8,375.1 531.0,375.4 531.2,375.6 531.4,375.8 531.6,375.6 531.8,375.8 532.0,375.8 532.2,375.9 532.4,376.0 532.6,376.0 532.8,376.1 533.0,376.1 533.2,376.4 533.4,376.4 533.6,376.4 533.8,376.4 534.0,376.3 534.2,376.3 534.4,376.3 534.6,376.3 534.8,376.0 535.0,376.0 535.2,376.0 535.4,376.0 535.6,375.9 535.8,375.9 536.0,375.9 536.2,375.9 536.4,375.7 536.6,375.7 536.8,375.7 537.0,375.7 537.2,375.8 537.4,375.8 537.6,375.8 537.8,375.7 538.0,376.0 538.2,375.9 538.4,375.9 538.6,375.8 538.8,375.7 539.0,375.7 539.2,375.6 539.4,375.5 539.6,375.4 539.8,375.3 540.0,375.2 540.2,375.2 540.4,375.3 540.6,375.3 540.8,375.2 541.0,375.2 541.2,374.8 541.4,374.9 541.6,374.9 541.8,375.0 542.0,375.2 542.2,375.3 542.4,375.3 542.6,375.4 542.8,375.7 543.0,375.7 543.2,375.8 543.4,375.9 543.6,375.9 543.8,376.0 544.0,376.0 544.2,376.0 544.4,376.2 544.6,376.2 544.8,376.2 545.0,376.2 545.2,376.1 545.4,376.1 545.6,376.1 545.8,376.1 546.0,375.9 546.2,375.9 546.4,375.9 546.6,375.9 546.8,376.1 547.0,376.1 547.2,376.1 547.4,376.1 547.6,375.8 547.8,375.8 548.0,375.8 548.2,375.8 548.4,375.6 548.6,375.6 548.8,375.6 549.0,375.6 549.2,376.1 549.4,376.1 549.6,376.1 549.8,376.1 550.0,376.0 550.2,376.0 550.4,376.0 550.6,376.0 550.8,376.1 551.0,376.1 551.2,376.1 551.4,376.1 551.6,375.6 551.8,375.6 552.0,375.6 552.2,375.6 552.4,375.9 552.6,375.9 552.8,375.9 553.0,375.9 553.2,375.9 553.4,375.9 553.6,375.9 553.8,375.9 554.0,375.8 554.2,375.8 554.4,375.8 554.6,375.8 554.8,375.5 555.0,375.5 555.2,375.5 555.4,375.5 555.6,375.9 555.8,375.9 556.0,375.9 556.2,375.9 556.4,376.2 556.6,376.2 556.8,376.2 557.0,376.2 557.2,376.1 557.4,376.1 557.6,376.1 557.8,376.1 558.0,375.9 558.2,375.9 558.4,375.9 558.6,375.9 558.8,376.0 559.0,376.0 559.2,376.0 559.4,376.0 559.6,376.2 559.8,376.2 560.0,376.2 560.2,376.2 560.4,375.4 560.6,375.4 560.8,375.4 561.0,375.4 561.2,376.0 561.4,376.0 561.6,376.0 561.8,376.0 562.0,376.1 562.2,376.1 562.4,376.1 562.6,376.1 562.8,376.1 563.0,376.1 563.2,376.1 563.4,376.1 563.6,376.4 563.8,376.4 564.0,376.4 564.2,376.4 564.4,376.2 564.6,376.2 564.8,376.2 565.0,376.2 565.2,376.1 565.4,376.1 565.6,376.1 565.8,376.1 566.0,376.1 566.2,376.1 566.4,376.1 566.6,376.1 566.8,376.2 567.0,376.2 567.2,376.2 567.4,376.2 567.6,375.9 567.8,375.9 568.0,375.9 568.2,375.9 568.4,376.0 568.6,376.0 568.8,376.0 569.0,376.0 569.2,376.2 569.4,376.2 569.6,376.2 569.8,376.2 570.0,376.4 570.2,376.4 570.4,376.4 570.6,376.4 570.8,376.0 571.0,376.0 571.2,376.0 571.4,376.0 571.6,376.0 571.8,376.0 572.0,376.0 572.2,376.0 572.4,376.0 572.6,376.0 572.8,376.0 573.0,376.0 573.2,376.3 573.4,376.3 573.6,376.3 573.8,376.3 574.0,376.0 574.2,376.0 574.4,376.0 574.6,376.0 574.8,376.3 575.0,376.3 575.2,376.3 575.4,376.3 575.6,375.8 575.8,375.8 576.0,375.8 576.2,375.8 576.4,376.0 576.6,376.0 576.8,376.0 577.0,376.0 577.2,376.0 577.4,376.0 577.6,376.0 577.8,376.0 578.0,376.2 578.2,376.2 578.4,376.2 578.6,376.2 578.8,376.2 579.0,376.2 579.2,376.2 579.4,376.2 579.6,375.7 579.8,375.7 580.0,375.7 580.2,375.7 580.4,375.8 580.6,375.8 580.8,375.8 581.0,375.8 581.2,376.1 581.4,376.1 581.6,376.1 581.8,376.1 582.0,375.9 582.2,375.9 582.4,375.9 582.6,375.9 582.8,375.7 583.0,375.7 583.2,375.7 583.4,375.7 583.6,376.2 583.8,376.2 584.0,376.2 584.2,376.2 584.4,376.1 584.6,376.1 584.8,376.1 585.0,376.1 585.2,376.1 585.4,376.1 585.6,376.1 585.8,376.1 586.0,375.9 586.2,375.9 586.4,375.9 586.6,375.9 586.8,376.2 587.0,376.2 587.2,376.2 587.4,376.2 587.6,375.9 587.8,375.9 588.0,375.9 588.2,375.9 588.4,376.2 588.6,376.2 588.8,376.2 589.0,376.2 589.2,375.8 589.4,375.8 589.6,375.8 589.8,375.8 590.0,375.8 590.2,375.8 590.4,375.8 590.6,375.8 590.8,376.0 591.0,376.0 591.2,376.0 591.4,376.0 591.6,375.8 591.8,375.8 592.0,375.8 592.2,375.8 592.4,376.1 592.6,376.1 592.8,376.1 593.0,376.1 593.2,376.1 593.4,376.1 593.6,376.1 593.8,376.1 594.0,375.8 594.2,375.8 594.4,375.8 594.6,375.8 594.8,376.0 595.0,376.0 595.2,376.0 595.4,376.0 595.6,375.9 595.8,375.9 596.0,375.9 596.2,375.9 596.4,376.2 596.6,376.2 596.8,376.2 597.0,376.2 597.2,375.9 597.4,375.9 597.6,375.9 597.8,375.9 598.0,375.9 598.2,375.9 598.4,375.9 598.6,375.9 598.8,376.3 599.0,376.3 599.2,376.3 599.4,376.3 599.6,376.5 599.8,376.5 600.0,376.5 600.2,376.5 600.4,376.4 600.6,376.4 600.8,376.4 601.0,376.4 601.2,376.0 601.4,376.0 601.6,376.0 601.8,376.0 602.0,376.0 602.2,376.0 602.4,376.0 602.6,376.0 602.8,376.3 603.0,376.3 603.2,376.3 603.4,376.3 603.6,376.0 603.8,376.0 604.0,376.0 604.2,376.0 604.4,375.8 604.6,375.8 604.8,375.8 605.0,375.8 605.2,376.0 605.4,376.0 605.6,376.0 605.8,376.0 606.0,376.1 606.2,376.1 606.4,376.1 606.6,376.1 606.8,375.8 607.0,375.8 607.2,375.8 607.4,375.8 607.6,375.6 607.8,375.6 608.0,375.6 608.2,375.6 608.4,375.7 608.6,375.7 608.8,375.7 609.0,375.7 609.2,376.1 609.4,376.1 609.6,376.1 609.8,376.1 610.0,375.8 610.2,375.8 610.4,375.8 610.6,375.8 610.8,376.0 611.0,376.0 611.2,376.0 611.4,376.0 611.6,376.0 611.8,376.0 612.0,376.0 612.2,376.0 612.4,376.1 612.6,376.1 612.8,376.1 613.0,376.1 613.2,375.9 613.4,375.9 613.6,375.9 613.8,375.9 614.0,376.1 614.2,376.1 614.4,376.1 614.6,376.1 614.8,375.8 615.0,375.8 615.2,375.8 615.4,375.8 615.6,375.9 615.8,375.9 616.0,375.9 616.2,375.9 616.4,375.8 616.6,375.8 616.8,375.8 617.0,375.8 617.2,376.2 617.4,376.2 617.6,376.2 617.8,376.2 618.0,376.0 618.2,376.0 618.4,376.0 618.6,376.0 618.8,375.8 619.0,375.8 619.2,375.8 619.4,375.8 619.6,375.9 619.8,375.9 620.0,375.9 620.2,375.9 620.4,376.0 620.6,376.0 620.8,376.0 621.0,376.0 621.2,376.2 621.4,376.2 621.6,376.2 621.8,376.2 622.0,375.6 622.2,375.6 622.4,375.6 622.6,375.6 622.8,375.8 623.0,375.8 623.2,375.8 623.4,375.8 623.6,375.9 623.8,375.9 624.0,375.9 624.2,375.9 624.4,376.6 624.6,376.6 624.8,376.6 625.0,376.6 625.2,376.2 625.4,376.2 625.6,376.2 625.8,376.2 626.0,376.0 626.2,376.0 626.4,376.0 626.6,376.0 626.8,376.2 627.0,376.2 627.2,376.2 627.4,376.2 627.6,376.5 627.8,376.5 628.0,376.5 628.2,376.5 628.4,375.9 628.6,375.9 628.8,375.9 629.0,375.9 629.2,375.9 629.4,375.9 629.6,375.9 629.8,375.9 630.0,376.3 630.2,376.3 630.4,376.3 630.6,376.3 630.8,376.1 631.0,376.1 631.2,376.1 631.4,376.1 631.6,376.1 631.8,376.1 632.0,376.1 632.2,376.1 632.4,375.9 632.6,375.9 632.8,375.9 633.0,375.9 633.2,376.4 633.4,376.4 633.6,376.4 633.8,376.4 634.0,376.4 634.2,376.4 634.4,376.4 634.6,376.4 634.8,376.1 635.0,376.1 635.2,376.1 635.4,376.1 635.6,376.2 635.8,376.2 636.0,376.2 636.2,376.2 636.4,375.6" fill="none" stroke="#e60012" stroke-width="3.0" stroke-linejoin="round" stroke-linecap="butt"/>
<polyline points="68.4,414.0 68.6,414.0 68.8,414.0 69.0,414.0 69.2,413.8 69.4,413.8 69.6,413.7 69.8,413.7 70.0,413.9 70.2,413.8 70.4,413.8 70.6,413.8 70.8,413.8 71.0,413.8 71.2,413.8 71.4,413.8 71.6,413.6 71.8,413.6 72.0,413.5 72.2,413.5 72.4,413.2 72.6,413.2 72.8,413.2 73.0,413.2 73.2,413.6 73.4,413.6 73.6,413.6 73.8,413.6 74.0,413.3 74.2,413.3 74.4,413.3 74.6,413.3 74.8,413.4 75.0,413.4 75.2,413.4 75.4,413.4 75.6,413.3 75.8,413.3 76.0,413.2 76.2,413.1 76.4,413.0 76.6,412.8 76.8,412.4 77.0,411.8 77.2,410.7 77.4,409.7 77.6,408.7 77.8,407.7 78.0,407.6 78.2,407.0 78.4,406.8 78.6,407.0 78.8,407.4 79.0,408.2 79.2,409.2 79.4,410.2 79.6,411.3 79.8,412.1 80.0,412.6 80.2,413.0 80.4,413.4 80.6,413.5 80.8,413.6 81.0,413.6 81.2,413.2 81.4,413.2 81.6,413.2 81.8,413.2 82.0,412.8 82.2,412.8 82.4,412.8 82.6,412.8 82.8,413.0 83.0,413.0 83.2,413.0 83.4,413.0 83.6,412.9 83.8,412.9 84.0,412.9 84.2,412.9 84.4,413.0 84.6,413.0 84.8,413.0 85.0,413.0 85.2,413.1 85.4,413.1 85.6,413.1 85.8,413.1 86.0,412.6 86.2,412.6 86.4,412.6 86.6,412.6 86.8,413.1 87.0,413.1 87.2,413.1 87.4,413.0 87.6,412.6 87.8,412.6 88.0,412.6 88.2,412.6 88.4,413.0 88.6,412.9 88.8,412.9 89.0,412.9 89.2,412.8 89.4,412.8 89.6,412.8 89.8,412.8 90.0,412.7 90.2,412.7 90.4,412.6 90.6,412.6 90.8,412.6 91.0,412.6 91.2,412.6 91.4,412.6 91.6,412.4 91.8,412.4 92.0,412.4 92.2,412.3 92.4,412.3 92.6,412.2 92.8,412.2 93.0,412.2 93.2,411.9 93.4,411.8 93.6,411.8 93.8,411.7 94.0,412.0 94.2,412.0 94.4,411.9 94.6,411.8 94.8,412.2 95.0,412.1 95.2,412.0 95.4,411.9 95.6,411.8 95.8,411.7 96.0,411.6 96.2,411.5 96.4,411.2 96.6,411.1 96.8,410.9 97.0,410.7 97.2,410.4 97.4,410.2 97.6,410.0 97.8,409.7 98.0,409.1 98.2,408.8 98.4,408.4 98.6,408.1 98.8,408.1 99.0,407.6 99.2,407.0 99.4,406.3 99.6,405.2 99.8,404.3 100.0,403.1 100.2,401.7 100.4,399.9 100.6,397.5 100.8,394.2 101.0,389.5 101.2,382.4 101.4,371.0 101.6,351.7 101.8,318.5 102.0,269.2 102.2,237.8 102.4,269.2 102.6,318.6 102.8,351.7 103.0,371.0 103.2,382.3 103.4,389.4 103.6,394.2 103.8,397.5 104.0,399.9 104.2,401.7 104.4,402.9 104.6,404.0 104.8,405.0 105.0,405.8 105.2,406.6 105.4,407.2 105.6,407.7 105.8,408.1 106.0,409.1 106.2,409.4 106.4,409.8 106.6,410.0 106.8,409.8 107.0,410.0 107.2,410.2 107.4,410.4 107.6,410.5 107.8,410.7 108.0,410.9 108.2,411.0 108.4,411.3 108.6,411.4 108.8,411.5 109.0,411.6 109.2,411.7 109.4,411.8 109.6,411.9 109.8,412.0 110.0,411.7 110.2,411.7 110.4,411.8 110.6,411.8 110.8,412.1 111.0,412.1 111.2,412.2 111.4,412.2 111.6,412.5 111.8,412.6 112.0,412.6 112.2,412.6 112.4,412.5 112.6,412.6 112.8,412.6 113.0,412.6 113.2,412.6 113.4,412.6 113.6,412.7 113.8,412.7 114.0,413.0 114.2,413.1 114.4,413.1 114.6,413.1 114.8,412.6 115.0,412.6 115.2,412.7 115.4,412.7 115.6,412.9 115.8,412.9 116.0,412.9 116.2,412.9 116.4,412.8 116.6,412.8 116.8,412.8 117.0,412.8 117.2,413.3 117.4,413.3 117.6,413.3 117.8,413.3 118.0,412.6 118.2,412.6 118.4,412.6 118.6,412.6 118.8,412.9 119.0,412.9 119.2,412.9 119.4,412.9 119.6,412.9 119.8,413.0 120.0,413.0 120.2,413.0 120.4,413.2 120.6,413.2 120.8,413.2 121.0,413.3 121.2,413.2 121.4,413.3 121.6,413.3 121.8,413.3 122.0,413.4 122.2,413.4 122.4,413.5 122.6,413.5 122.8,412.8 123.0,412.8 123.2,412.8 123.4,412.8 123.6,413.3 123.8,413.3 124.0,413.3 124.2,413.3 124.4,413.1 124.6,413.1 124.8,413.1 125.0,413.1 125.2,413.1 125.4,413.1 125.6,413.1 125.8,413.1 126.0,413.3 126.2,413.3 126.4,413.3 126.6,413.3 126.8,413.0 127.0,413.0 127.2,413.0 127.4,413.0 127.6,412.8 127.8,412.8 128.0,412.8 128.2,412.8 128.4,413.2 128.6,413.2 128.8,413.2 129.0,413.2 129.2,412.9 129.4,412.9 129.6,412.9 129.8,412.9 130.0,413.1 130.2,413.1 130.4,413.1 130.6,413.1 130.8,413.3 131.0,413.3 131.2,413.4 131.4,413.4 131.6,413.3 131.8,413.3 132.0,413.3 132.2,413.3 132.4,413.6 132.6,413.6 132.8,413.6 133.0,413.6 133.2,413.2 133.4,413.2 133.6,413.2 133.8,413.2 134.0,413.0 134.2,413.0 134.4,413.0 134.6,413.0 134.8,413.1 135.0,413.1 135.2,413.1 135.4,413.1 135.6,413.1 135.8,413.1 136.0,413.1 136.2,413.1 136.4,413.0 136.6,413.0 136.8,413.0 137.0,413.0 137.2,413.4 137.4,413.4 137.6,413.4 137.8,413.4 138.0,413.2 138.2,413.2 138.4,413.2 138.6,413.2 138.8,412.9 139.0,412.9 139.2,412.9 139.4,412.9 139.6,413.5 139.8,413.5 140.0,413.5 140.2,413.5 140.4,413.3 140.6,413.3 140.8,413.3 141.0,413.3 141.2,413.4 141.4,413.4 141.6,413.4 141.8,413.4 142.0,413.3 142.2,413.3 142.4,413.3 142.6,413.3 142.8,413.5 143.0,413.5 143.2,413.5 143.4,413.5 143.6,413.3 143.8,413.3 144.0,413.3 144.2,413.3 144.4,413.6 144.6,413.6 144.8,413.6 145.0,413.5 145.2,413.3 145.4,413.3 145.6,413.3 145.8,413.2 146.0,413.2 146.2,413.1 146.4,413.1 146.6,413.0 146.8,412.9 147.0,412.9 147.2,412.8 147.4,412.8 147.6,412.3 147.8,412.3 148.0,412.3 148.2,412.3 148.4,412.6 148.6,412.7 148.8,412.7 149.0,412.8 149.2,412.8 149.4,412.9 149.6,412.9 149.8,413.0 150.0,413.1 150.2,413.2 150.4,413.2 150.6,413.3 150.8,412.9 151.0,413.0 151.2,413.0 151.4,413.0 151.6,413.7 151.8,413.7 152.0,413.7 152.2,413.7 152.4,413.4 152.6,413.4 152.8,413.4 153.0,413.4 153.2,413.1 153.4,413.1 153.6,413.1 153.8,413.1 154.0,413.0 154.2,413.0 154.4,413.0 154.6,413.0 154.8,413.3 155.0,413.3 155.2,413.3 155.4,413.3 155.6,413.3 155.8,413.3 156.0,413.3 156.2,413.3 156.4,413.2 156.6,413.1 156.8,413.1 157.0,413.1 157.2,413.2 157.4,413.2 157.6,413.2 157.8,413.1 158.0,412.9 158.2,412.8 158.4,412.7 158.6,412.7 158.8,412.8 159.0,412.8 159.2,412.7 159.4,412.7 159.6,412.3 159.8,412.3 160.0,412.3 160.2,412.3 160.4,412.5 160.6,412.5 160.8,412.6 161.0,412.6 161.2,412.9 161.4,413.0 161.6,413.1 161.8,413.2 162.0,413.6 162.2,413.7 162.4,413.7 162.6,413.8 162.8,413.0 163.0,413.0 163.2,413.1 163.4,413.1 163.6,413.2 163.8,413.2 164.0,413.2 164.2,413.2 164.4,413.2 164.6,413.2 164.8,413.2 165.0,413.2 165.2,413.5 165.4,413.5 165.6,413.5 165.8,413.5 166.0,413.1 166.2,413.1 166.4,413.1 166.6,413.1 166.8,413.2 167.0,413.2 167.2,413.2 167.4,413.2 167.6,413.3 167.8,413.3 168.0,413.3 168.2,413.3 168.4,413.1 168.6,413.1 168.8,413.1 169.0,413.1 169.2,413.1 169.4,413.1 169.6,413.1 169.8,413.1 170.0,413.2 170.2,413.2 170.4,413.2 170.6,413.2 170.8,412.9 171.0,412.9 171.2,412.9 171.4,412.9 171.6,413.0 171.8,413.0 172.0,413.0 172.2,413.0 172.4,413.3 172.6,413.3 172.8,413.3 173.0,413.3 173.2,413.4 173.4,413.4 173.6,413.4 173.8,413.4 174.0,413.3 174.2,413.3 174.4,413.3 174.6,413.3 174.8,413.0 175.0,413.0 175.2,413.0 175.4,413.0 175.6,413.2 175.8,413.2 176.0,413.2 176.2,413.2 176.4,413.5 176.6,413.5 176.8,413.5 177.0,413.5 177.2,413.5 177.4,413.5 177.6,413.5 177.8,413.5 178.0,413.3 178.2,413.3 178.4,413.3 178.6,413.3 178.8,413.2 179.0,413.2 179.2,413.2 179.4,413.2 179.6,413.5 179.8,413.5 180.0,413.5 180.2,413.5 180.4,413.2 180.6,413.2 180.8,413.2 181.0,413.2 181.2,413.1 181.4,413.1 181.6,413.1 181.8,413.1 182.0,413.2 182.2,413.2 182.4,413.2 182.6,413.2 182.8,413.7 183.0,413.7 183.2,413.7 183.4,413.7 183.6,413.4 183.8,413.4 184.0,413.4 184.2,413.4 184.4,413.6 184.6,413.6 184.8,413.6 185.0,413.6 185.2,413.2 185.4,413.2 185.6,413.2 185.8,413.2 186.0,413.5 186.2,413.5 186.4,413.5 186.6,413.5 186.8,413.2 187.0,413.2 187.2,413.2 187.4,413.2 187.6,413.3 187.8,413.3 188.0,413.3 188.2,413.3 188.4,413.9 188.6,413.9 188.8,413.9 189.0,413.9 189.2,413.5 189.4,413.5 189.6,413.5 189.8,413.5 190.0,413.2 190.2,413.2 190.4,413.2 190.6,413.2 190.8,413.3 191.0,413.3 191.2,413.3 191.4,413.3 191.6,413.4 191.8,413.4 192.0,413.4 192.2,413.4 192.4,413.6 192.6,413.6 192.8,413.6 193.0,413.6 193.2,413.2 193.4,413.2 193.6,413.2 193.8,413.2 194.0,412.9 194.2,412.9 194.4,412.9 194.6,412.9 194.8,413.3 195.0,413.3 195.2,413.3 195.4,413.3 195.6,413.3 195.8,413.3 196.0,413.3 196.2,413.3 196.4,413.3 196.6,413.3 196.8,413.3 197.0,413.3 197.2,413.6 197.4,413.6 197.6,413.6 197.8,413.6 198.0,413.4 198.2,413.4 198.4,413.4 198.6,413.4 198.8,413.5 199.0,413.5 199.2,413.5 199.4,413.5 199.6,413.1 199.8,413.1 200.0,413.1 200.2,413.1 200.4,413.5 200.6,413.5 200.8,413.5 201.0,413.5 201.2,413.7 201.4,413.7 201.6,413.7 201.8,413.7 202.0,413.4 202.2,413.4 202.4,413.3 202.6,413.3 202.8,413.1 203.0,413.1 203.2,413.0 203.4,412.9 203.6,412.8 203.8,412.8 204.0,412.7 204.2,412.6 204.4,412.9 204.6,412.9 204.8,412.9 205.0,412.9 205.2,412.3 205.4,412.3 205.6,412.3 205.8,412.4 206.0,412.6 206.2,412.7 206.4,412.8 206.6,412.8 206.8,413.0 207.0,413.1 207.2,413.1 207.4,413.2 207.6,413.3 207.8,413.3 208.0,413.3 208.2,413.4 208.4,413.1 208.6,413.1 208.8,413.1 209.0,413.1 209.2,413.3 209.4,413.3 209.6,413.3 209.8,413.3 210.0,413.2 210.2,413.2 210.4,413.2 210.6,413.2 210.8,413.3 211.0,413.2 211.2,413.2 211.4,413.2 211.6,413.2 211.8,413.2 212.0,413.2 212.2,413.2 212.4,413.0 212.6,412.9 212.8,412.9 213.0,412.9 213.2,413.2 213.4,413.2 213.6,413.2 213.8,413.2 214.0,413.4 214.2,413.4 214.4,413.4 214.6,413.4 214.8,412.9 215.0,412.9 215.2,412.9 215.4,412.9 215.6,413.1 215.8,413.1 216.0,413.1 216.2,413.1 216.4,413.3 216.6,413.3 216.8,413.2 217.0,413.2 217.2,412.8 217.4,412.7 217.6,412.6 217.8,412.3 218.0,412.2 218.2,411.6 218.4,410.7 218.6,409.5 218.8,407.6 219.0,405.6 219.2,403.4 219.4,401.0 219.6,399.2 219.8,397.4 220.0,396.2 220.2,395.7 220.4,396.4 220.6,397.6 220.8,399.5 221.0,401.7 221.2,403.9 221.4,406.2 221.6,408.1 221.8,409.7 222.0,410.5 222.2,411.3 222.4,411.9 222.6,412.3 222.8,412.7 223.0,412.8 223.2,412.9 223.4,412.9 223.6,412.8 223.8,412.7 224.0,412.7 224.2,412.7 224.4,412.7 224.6,412.6 224.8,412.6 225.0,412.5 225.2,412.8 225.4,412.7 225.6,412.6 225.8,412.4 226.0,411.6 226.2,411.4 226.4,411.1 226.6,410.8 226.8,410.9 227.0,410.5 227.2,410.0 227.4,409.5 227.6,408.8 227.8,408.2 228.0,407.7 228.2,407.2 228.4,407.1 228.6,406.8 228.8,406.6 229.0,406.4 229.2,406.1 229.4,406.2 229.6,406.4 229.8,406.6 230.0,406.7 230.2,407.0 230.4,407.4 230.6,407.7 230.8,408.2 231.0,408.4 231.2,408.6 231.4,408.8 231.6,408.9 231.8,408.9 232.0,408.8 232.2,408.6 232.4,408.2 232.6,407.9 232.8,407.6 233.0,407.1 233.2,406.6 233.4,406.0 233.6,405.2 233.8,404.3 234.0,403.0 234.2,401.7 234.4,400.0 234.6,397.8 234.8,394.5 235.0,390.6 235.2,384.8 235.4,376.2 235.6,362.9 235.8,339.3 236.0,298.5 236.2,237.9 236.4,199.3 236.6,237.9 236.8,298.5 237.0,339.3 237.2,362.7 237.4,376.7 237.6,385.3 237.8,391.1 238.0,395.0 238.2,397.9 238.4,400.1 238.6,401.8 238.8,403.4 239.0,404.5 239.2,405.4 239.4,406.2 239.6,406.5 239.8,407.1 240.0,407.6 240.2,408.0 240.4,408.4 240.6,408.7 240.8,409.0 241.0,409.3 241.2,409.7 241.4,409.9 241.6,410.1 241.8,410.3 242.0,410.8 242.2,411.0 242.4,411.1 242.6,411.3 242.8,410.8 243.0,410.9 243.2,411.0 243.4,411.1 243.6,411.8 243.8,411.9 244.0,412.0 244.2,412.0 244.4,411.7 244.6,411.8 244.8,411.8 245.0,411.9 245.2,411.9 245.4,411.9 245.6,412.0 245.8,412.0 246.0,412.6 246.2,412.6 246.4,412.7 246.6,412.7 246.8,412.4 247.0,412.5 247.2,412.5 247.4,412.5 247.6,412.3 247.8,412.3 248.0,412.3 248.2,412.4 248.4,412.6 248.6,412.6 248.8,412.6 249.0,412.7 249.2,413.0 249.4,413.0 249.6,413.0 249.8,413.0 250.0,413.1 250.2,413.1 250.4,413.1 250.6,413.1 250.8,412.8 251.0,412.8 251.2,412.8 251.4,412.8 251.6,413.0 251.8,413.0 252.0,413.0 252.2,413.1 252.4,413.1 252.6,413.1 252.8,413.2 253.0,413.2 253.2,412.9 253.4,412.9 253.6,412.9 253.8,412.9 254.0,413.1 254.2,413.1 254.4,413.1 254.6,413.1 254.8,413.1 255.0,413.1 255.2,413.1 255.4,413.1 255.6,413.0 255.8,413.0 256.0,413.0 256.2,413.0 256.4,413.0 256.6,413.0 256.8,413.0 257.0,413.0 257.2,413.2 257.4,413.2 257.6,413.2 257.8,413.2 258.0,413.2 258.2,413.2 258.4,413.2 258.6,413.2 258.8,413.1 259.0,413.1 259.2,413.1 259.4,413.1 259.6,413.1 259.8,413.1 260.0,413.1 260.2,413.1 260.4,413.5 260.6,413.5 260.8,413.5 261.0,413.5 261.2,413.3 261.4,413.3 261.6,413.3 261.8,413.3 262.0,413.4 262.2,413.4 262.4,413.4 262.6,413.4 262.8,413.5 263.0,413.5 263.2,413.5 263.4,413.5 263.6,413.4 263.8,413.4 264.0,413.4 264.2,413.4 264.4,413.7 264.6,413.7 264.8,413.7 265.0,413.7 265.2,413.0 265.4,413.0 265.6,412.9 265.8,412.9 266.0,413.2 266.2,413.1 266.4,413.1 266.6,413.0 266.8,412.6 267.0,412.5 267.2,412.4 267.4,412.2 267.6,412.6 267.8,412.4 268.0,412.2 268.2,412.0 268.4,411.8 268.6,411.6 268.8,411.4 269.0,411.3 269.2,410.3 269.4,410.1 269.6,410.0 269.8,409.9 270.0,410.0 270.2,409.9 270.4,409.9 270.6,409.9 270.8,410.3 271.0,410.3 271.2,410.4 271.4,410.6 271.6,410.7 271.8,410.9 272.0,411.1 272.2,411.3 272.4,411.4 272.6,411.6 272.8,411.8 273.0,412.0 273.2,412.0 273.4,412.2 273.6,412.3 273.8,412.5 274.0,412.7 274.2,412.8 274.4,412.9 274.6,413.0 274.8,413.1 275.0,413.2 275.2,413.3 275.4,413.3 275.6,413.2 275.8,413.2 276.0,413.2 276.2,413.3 276.4,413.5 276.6,413.5 276.8,413.5 277.0,413.5 277.2,412.8 277.4,412.8 277.6,412.8 277.8,412.8 278.0,413.5 278.2,413.5 278.4,413.5 278.6,413.5 278.8,413.1 279.0,413.1 279.2,413.1 279.4,413.1 279.6,413.5 279.8,413.5 280.0,413.5 280.2,413.6 280.4,413.3 280.6,413.3 280.8,413.3 281.0,413.3 281.2,413.1 281.4,413.1 281.6,413.1 281.8,413.1 282.0,413.4 282.2,413.4 282.4,413.4 282.6,413.4 282.8,413.1 283.0,413.1 283.2,413.1 283.4,413.1 283.6,413.1 283.8,413.1 284.0,413.1 284.2,413.1 284.4,413.0 284.6,413.0 284.8,413.0 285.0,413.0 285.2,413.3 285.4,413.3 285.6,413.3 285.8,413.3 286.0,413.4 286.2,413.4 286.4,413.4 286.6,413.3 286.8,413.4 287.0,413.3 287.2,413.3 287.4,413.2 287.6,412.9 287.8,412.8 288.0,412.6 288.2,412.5 288.4,412.7 288.6,412.6 288.8,412.5 289.0,412.4 289.2,412.1 289.4,412.1 289.6,412.1 289.8,412.1 290.0,412.1 290.2,412.2 290.4,412.2 290.6,412.3 290.8,412.6 291.0,412.7 291.2,412.8 291.4,412.9 291.6,413.1 291.8,413.2 292.0,413.3 292.2,413.4 292.4,413.1 292.6,413.2 292.8,413.2 293.0,413.2 293.2,413.3 293.4,413.3 293.6,413.3 293.8,413.3 294.0,413.3 294.2,413.3 294.4,413.3 294.6,413.3 294.8,413.4 295.0,413.4 295.2,413.4 295.4,413.4 295.6,413.2 295.8,413.2 296.0,413.2 296.2,413.2 296.4,413.6 296.6,413.6 296.8,413.6 297.0,413.6 297.2,413.3 297.4,413.3 297.6,413.3 297.8,413.3 298.0,413.5 298.2,413.5 298.4,413.5 298.6,413.5 298.8,413.2 299.0,413.2 299.2,413.2 299.4,413.2 299.6,413.4 299.8,413.4 300.0,413.4 300.2,413.4 300.4,413.5 300.6,413.5 300.8,413.4 301.0,413.4 301.2,413.3 301.4,413.2 301.6,413.2 301.8,413.2 302.0,413.7 302.2,413.7 302.4,413.7 302.6,413.6 302.8,413.2 303.0,413.2 303.2,413.1 303.4,413.0 303.6,413.3 303.8,413.2 304.0,413.1 304.2,413.1 304.4,412.9 304.6,412.8 304.8,412.8 305.0,412.8 305.2,412.4 305.4,412.5 305.6,412.5 305.8,412.5 306.0,412.7 306.2,412.7 306.4,412.8 306.6,412.9 306.8,413.1 307.0,413.2 307.2,413.2 307.4,413.3 307.6,413.2 307.8,413.3 308.0,413.3 308.2,413.3 308.4,413.3 308.6,413.4 308.8,413.4 309.0,413.4 309.2,413.3 309.4,413.3 309.6,413.3 309.8,413.3 310.0,413.0 310.2,413.0 310.4,413.0 310.6,413.0 310.8,413.3 311.0,413.3 311.2,413.3 311.4,413.3 311.6,412.9 311.8,412.9 312.0,412.9 312.2,412.9 312.4,413.5 312.6,413.5 312.8,413.5 313.0,413.5 313.2,413.2 313.4,413.2 313.6,413.2 313.8,413.2 314.0,413.2 314.2,413.2 314.4,413.2 314.6,413.2 314.8,413.3 315.0,413.3 315.2,413.3 315.4,413.3 315.6,413.4 315.8,413.4 316.0,413.4 316.2,413.4 316.4,413.1 316.6,413.1 316.8,413.1 317.0,413.1 317.2,413.0 317.4,413.0 317.6,413.0 317.8,413.0 318.0,413.1 318.2,413.1 318.4,413.1 318.6,413.1 318.8,412.9 319.0,412.9 319.2,412.9 319.4,412.9 319.6,413.2 319.8,413.2 320.0,413.2 320.2,413.2 320.4,413.7 320.6,413.7 320.8,413.7 321.0,413.7 321.2,413.2 321.4,413.2 321.6,413.2 321.8,413.2 322.0,413.5 322.2,413.5 322.4,413.5 322.6,413.5 322.8,413.1 323.0,413.1 323.2,413.1 323.4,413.1 323.6,413.4 323.8,413.4 324.0,413.4 324.2,413.4 324.4,413.3 324.6,413.3 324.8,413.3 325.0,413.3 325.2,413.4 325.4,413.4 325.6,413.4 325.8,413.4 326.0,413.5 326.2,413.5 326.4,413.5 326.6,413.5 326.8,413.7 327.0,413.7 327.2,413.7 327.4,413.6 327.6,413.3 327.8,413.2 328.0,413.2 328.2,413.1 328.4,413.0 328.6,413.0 328.8,412.9 329.0,412.9 329.2,412.6 329.4,412.5 329.6,412.5 329.8,412.5 330.0,412.8 330.2,412.8 330.4,412.8 330.6,412.9 330.8,412.7 331.0,412.8 331.2,412.8 331.4,412.9 331.6,413.2 331.8,413.3 332.0,413.3 332.2,413.4 332.4,413.2 332.6,413.3 332.8,413.3 333.0,413.3 333.2,413.7 333.4,413.7 333.6,413.7 333.8,413.8 334.0,412.9 334.2,412.9 334.4,412.9 334.6,412.9 334.8,413.3 335.0,413.3 335.2,413.3 335.4,413.3 335.6,413.6 335.8,413.6 336.0,413.6 336.2,413.6 336.4,413.3 336.6,413.3 336.8,413.3 337.0,413.3 337.2,413.2 337.4,413.2 337.6,413.2 337.8,413.2 338.0,413.3 338.2,413.3 338.4,413.3 338.6,413.3 338.8,413.1 339.0,413.1 339.2,413.1 339.4,413.1 339.6,413.4 339.8,413.4 340.0,413.4 340.2,413.4 340.4,413.9 340.6,413.9 340.8,413.9 341.0,413.9 341.2,413.6 341.4,413.6 341.6,413.6 341.8,413.6 342.0,413.1 342.2,413.1 342.4,413.1 342.6,413.1 342.8,413.2 343.0,413.2 343.2,413.2 343.4,413.2 343.6,413.3 343.8,413.3 344.0,413.3 344.2,413.3 344.4,413.6 344.6,413.6 344.8,413.6 345.0,413.6 345.2,413.2 345.4,413.2 345.6,413.2 345.8,413.2 346.0,413.2 346.2,413.2 346.4,413.2 346.6,413.2 346.8,413.6 347.0,413.6 347.2,413.6 347.4,413.6 347.6,413.6 347.8,413.6 348.0,413.6 348.2,413.6 348.4,413.3 348.6,413.3 348.8,413.2 349.0,413.2 349.2,413.0 349.4,412.9 349.6,412.9 349.8,412.8 350.0,412.6 350.2,412.4 350.4,412.3 350.6,412.1 350.8,412.1 351.0,411.9 351.2,411.7 351.4,411.5 351.6,410.9 351.8,410.8 352.0,410.6 352.2,410.6 352.4,411.2 352.6,411.2 352.8,411.2 353.0,411.3 353.2,411.1 353.4,411.3 353.6,411.5 353.8,411.7 354.0,412.1 354.2,412.3 354.4,412.5 354.6,412.7 354.8,413.2 355.0,413.3 355.2,413.4 355.4,413.5 355.6,413.4 355.8,413.5 356.0,413.5 356.2,413.6 356.4,413.1 356.6,413.1 356.8,413.1 357.0,413.1 357.2,413.6 357.4,413.6 357.6,413.6 357.8,413.6 358.0,413.6 358.2,413.6 358.4,413.6 358.6,413.6 358.8,413.2 359.0,413.2 359.2,413.2 359.4,413.2 359.6,413.2 359.8,413.2 360.0,413.2 360.2,413.2 360.4,413.4 360.6,413.4 360.8,413.4 361.0,413.4 361.2,413.0 361.4,413.0 361.6,413.0 361.8,413.0 362.0,413.7 362.2,413.7 362.4,413.7 362.6,413.7 362.8,412.9 363.0,412.9 363.2,412.9 363.4,412.9 363.6,413.1 363.8,413.1 364.0,413.1 364.2,413.1 364.4,413.3 364.6,413.3 364.8,413.3 365.0,413.3 365.2,413.3 365.4,413.3 365.6,413.3 365.8,413.3 366.0,413.4 366.2,413.4 366.4,413.4 366.6,413.4 366.8,413.5 367.0,413.5 367.2,413.5 367.4,413.5 367.6,413.3 367.8,413.3 368.0,413.3 368.2,413.3 368.4,413.6 368.6,413.6 368.8,413.6 369.0,413.6 369.2,412.9 369.4,412.9 369.6,412.9 369.8,412.9 370.0,413.4 370.2,413.4 370.4,413.4 370.6,413.4 370.8,413.2 371.0,413.2 371.2,413.2 371.4,413.2 371.6,413.4 371.8,413.4 372.0,413.4 372.2,413.4 372.4,413.4 372.6,413.4 372.8,413.3 373.0,413.2 373.2,412.7 373.4,412.4 373.6,411.8 373.8,411.2 374.0,410.4 374.2,409.5 374.4,408.6 374.6,407.8 374.8,407.5 375.0,407.3 375.2,407.5 375.4,407.9 375.6,408.6 375.8,409.4 376.0,410.2 376.2,410.9 376.4,411.2 376.6,411.6 376.8,411.8 377.0,411.8 377.2,412.4 377.4,412.4 377.6,412.3 377.8,412.3 378.0,412.3 378.2,412.3 378.4,412.4 378.6,412.5 378.8,411.8 379.0,411.9 379.2,412.1 379.4,412.3 379.6,412.8 379.8,412.9 380.0,413.1 380.2,413.2 380.4,413.7 380.6,413.8 380.8,413.8 381.0,413.9 381.2,413.5 381.4,413.5 381.6,413.5 381.8,413.6 382.0,413.4 382.2,413.4 382.4,413.4 382.6,413.4 382.8,413.3 383.0,413.3 383.2,413.3 383.4,413.3 383.6,413.3 383.8,413.3 384.0,413.3 384.2,413.3 384.4,413.3 384.6,413.3 384.8,413.3 385.0,413.3 385.2,413.3 385.4,413.3 385.6,413.3 385.8,413.3 386.0,413.6 386.2,413.6 386.4,413.6 386.6,413.6 386.8,413.3 387.0,413.3 387.2,413.3 387.4,413.3 387.6,413.3 387.8,413.3 388.0,413.3 388.2,413.3 388.4,413.1 388.6,413.1 388.8,413.1 389.0,413.1 389.2,413.4 389.4,413.4 389.6,413.4 389.8,413.4 390.0,413.2 390.2,413.2 390.4,413.2 390.6,413.2 390.8,413.4 391.0,413.4 391.2,413.4 391.4,413.4 391.6,413.6 391.8,413.6 392.0,413.6 392.2,413.6 392.4,413.5 392.6,413.5 392.8,413.5 393.0,413.5 393.2,413.5 393.4,413.5 393.6,413.5 393.8,413.5 394.0,413.5 394.2,413.5 394.4,413.5 394.6,413.5 394.8,413.4 395.0,413.4 395.2,413.4 395.4,413.4 395.6,413.4 395.8,413.4 396.0,413.4 396.2,413.4 396.4,413.3 396.6,413.3 396.8,413.3 397.0,413.3 397.2,413.6 397.4,413.6 397.6,413.6 397.8,413.6 398.0,413.2 398.2,413.2 398.4,413.2 398.6,413.2 398.8,413.7 399.0,413.7 399.2,413.7 399.4,413.7 399.6,413.4 399.8,413.4 400.0,413.4 400.2,413.4 400.4,413.2 400.6,413.2 400.8,413.2 401.0,413.2 401.2,413.3 401.4,413.3 401.6,413.3 401.8,413.3 402.0,413.2 402.2,413.2 402.4,413.2 402.6,413.2 402.8,413.4 403.0,413.4 403.2,413.4 403.4,413.4 403.6,413.2 403.8,413.2 404.0,413.2 404.2,413.2 404.4,413.6 404.6,413.6 404.8,413.6 405.0,413.6 405.2,413.2 405.4,413.2 405.6,413.2 405.8,413.2 406.0,412.9 406.2,412.9 406.4,412.9 406.6,412.9 406.8,413.2 407.0,413.2 407.2,413.2 407.4,413.2 407.6,413.0 407.8,413.0 408.0,413.0 408.2,413.0 408.4,413.4 408.6,413.4 408.8,413.4 409.0,413.4 409.2,413.6 409.4,413.6 409.6,413.6 409.8,413.6 410.0,413.5 410.2,413.5 410.4,413.5 410.6,413.5 410.8,413.1 411.0,413.1 411.2,413.1 411.4,413.1 411.6,413.2 411.8,413.2 412.0,413.1 412.2,413.1 412.4,413.7 412.6,413.6 412.8,413.6 413.0,413.5 413.2,413.2 413.4,413.1 413.6,413.1 413.8,413.0 414.0,412.9 414.2,412.9 414.4,412.8 414.6,412.8 414.8,413.0 415.0,413.0 415.2,413.0 415.4,413.0 415.6,413.4 415.8,413.4 416.0,413.5 416.2,413.5 416.4,413.3 416.6,413.3 416.8,413.4 417.0,413.4 417.2,413.2 417.4,413.3 417.6,413.3 417.8,413.3 418.0,413.4 418.2,413.4 418.4,413.4 418.6,413.4 418.8,413.5 419.0,413.5 419.2,413.5 419.4,413.5 419.6,413.3 419.8,413.3 420.0,413.3 420.2,413.3 420.4,413.2 420.6,413.2 420.8,413.2 421.0,413.2 421.2,413.4 421.4,413.4 421.6,413.4 421.8,413.4 422.0,413.2 422.2,413.2 422.4,413.2 422.6,413.2 422.8,413.4 423.0,413.4 423.2,413.4 423.4,413.4 423.6,413.4 423.8,413.4 424.0,413.4 424.2,413.4 424.4,413.9 424.6,413.9 424.8,413.9 425.0,413.9 425.2,413.2 425.4,413.2 425.6,413.2 425.8,413.2 426.0,413.4 426.2,413.4 426.4,413.4 426.6,413.4 426.8,413.4 427.0,413.4 427.2,413.4 427.4,413.4 427.6,413.5 427.8,413.5 428.0,413.5 428.2,413.5 428.4,413.6 428.6,413.6 428.8,413.6 429.0,413.6 429.2,413.3 429.4,413.3 429.6,413.3 429.8,413.3 430.0,413.2 430.2,413.2 430.4,413.2 430.6,413.2 430.8,413.0 431.0,413.0 431.2,413.0 431.4,413.0 431.6,413.2 431.8,413.2 432.0,413.2 432.2,413.2 432.4,413.5 432.6,413.5 432.8,413.5 433.0,413.5 433.2,413.4 433.4,413.4 433.6,413.4 433.8,413.4 434.0,413.2 434.2,413.2 434.4,413.2 434.6,413.2 434.8,413.3 435.0,413.3 435.2,413.3 435.4,413.3 435.6,413.4 435.8,413.4 436.0,413.4 436.2,413.4 436.4,413.5 436.6,413.5 436.8,413.5 437.0,413.5 437.2,413.3 437.4,413.3 437.6,413.3 437.8,413.3 438.0,413.3 438.2,413.3 438.4,413.3 438.6,413.3 438.8,413.0 439.0,413.0 439.2,413.0 439.4,413.0 439.6,413.1 439.8,413.1 440.0,413.1 440.2,413.1 440.4,413.8 440.6,413.8 440.8,413.8 441.0,413.8 441.2,412.9 441.4,412.9 441.6,412.9 441.8,412.9 442.0,413.3 442.2,413.3 442.4,413.3 442.6,413.3 442.8,413.4 443.0,413.4 443.2,413.4 443.4,413.4 443.6,413.3 443.8,413.3 444.0,413.3 444.2,413.3 444.4,413.2 444.6,413.2 444.8,413.2 445.0,413.2 445.2,413.4 445.4,413.4 445.6,413.4 445.8,413.4 446.0,413.4 446.2,413.4 446.4,413.4 446.6,413.4 446.8,413.4 447.0,413.4 447.2,413.4 447.4,413.4 447.6,413.0 447.8,413.0 448.0,413.0 448.2,413.0 448.4,413.4 448.6,413.4 448.8,413.4 449.0,413.4 449.2,413.2 449.4,413.2 449.6,413.2 449.8,413.2 450.0,413.3 450.2,413.3 450.4,413.3 450.6,413.3 450.8,413.4 451.0,413.4 451.2,413.4 451.4,413.4 451.6,413.5 451.8,413.5 452.0,413.5 452.2,413.5 452.4,413.6 452.6,413.6 452.8,413.6 453.0,413.6 453.2,413.3 453.4,413.3 453.6,413.3 453.8,413.3 454.0,413.6 454.2,413.6 454.4,413.6 454.6,413.6 454.8,413.7 455.0,413.7 455.2,413.7 455.4,413.7 455.6,413.6 455.8,413.6 456.0,413.6 456.2,413.6 456.4,413.7 456.6,413.7 456.8,413.7 457.0,413.7 457.2,413.4 457.4,413.4 457.6,413.4 457.8,413.4 458.0,413.4 458.2,413.4 458.4,413.4 458.6,413.4 458.8,413.6 459.0,413.6 459.2,413.6 459.4,413.6 459.6,413.1 459.8,413.1 460.0,413.1 460.2,413.1 460.4,413.4 460.6,413.4 460.8,413.4 461.0,413.4 461.2,413.3 461.4,413.3 461.6,413.3 461.8,413.3 462.0,413.3 462.2,413.3 462.4,413.3 462.6,413.3 462.8,413.0 463.0,413.0 463.2,413.0 463.4,413.0 463.6,413.2 463.8,413.2 464.0,413.2 464.2,413.2 464.4,413.4 464.6,413.4 464.8,413.4 465.0,413.4 465.2,413.6 465.4,413.6 465.6,413.6 465.8,413.6 466.0,413.6 466.2,413.6 466.4,413.6 466.6,413.6 466.8,413.3 467.0,413.3 467.2,413.3 467.4,413.2 467.6,413.2 467.8,413.1 468.0,413.1 468.2,413.0 468.4,412.8 468.6,412.8 468.8,412.7 469.0,412.7 469.2,412.9 469.4,412.8 469.6,412.8 469.8,412.8 470.0,412.6 470.2,412.6 470.4,412.7 470.6,412.7 470.8,412.9 471.0,413.0 471.2,413.0 471.4,413.1 471.6,413.4 471.8,413.4 472.0,413.5 472.2,413.5 472.4,413.2 472.6,413.2 472.8,413.3 473.0,413.3 473.2,413.0 473.4,413.0 473.6,413.0 473.8,413.0 474.0,413.2 474.2,413.2 474.4,413.2 474.6,413.2 474.8,413.1 475.0,413.1 475.2,413.1 475.4,413.1 475.6,413.1 475.8,413.1 476.0,413.1 476.2,413.1 476.4,413.7 476.6,413.7 476.8,413.7 477.0,413.7 477.2,413.4 477.4,413.4 477.6,413.4 477.8,413.4 478.0,413.1 478.2,413.1 478.4,413.1 478.6,413.1 478.8,413.5 479.0,413.5 479.2,413.5 479.4,413.5 479.6,413.7 479.8,413.7 480.0,413.7 480.2,413.7 480.4,413.3 480.6,413.3 480.8,413.3 481.0,413.3 481.2,413.2 481.4,413.2 481.6,413.2 481.8,413.2 482.0,413.3 482.2,413.3 482.4,413.3 482.6,413.3 482.8,413.5 483.0,413.5 483.2,413.5 483.4,413.5 483.6,413.5 483.8,413.5 484.0,413.5 484.2,413.5 484.4,413.7 484.6,413.7 484.8,413.7 485.0,413.7 485.2,413.7 485.4,413.7 485.6,413.7 485.8,413.7 486.0,413.7 486.2,413.7 486.4,413.7 486.6,413.7 486.8,413.7 487.0,413.7 487.2,413.7 487.4,413.7 487.6,413.5 487.8,413.5 488.0,413.5 488.2,413.5 488.4,413.1 488.6,413.1 488.8,413.1 489.0,413.1 489.2,413.4 489.4,413.4 489.6,413.4 489.8,413.4 490.0,413.5 490.2,413.5 490.4,413.5 490.6,413.5 490.8,413.3 491.0,413.3 491.2,413.3 491.4,413.3 491.6,413.6 491.8,413.6 492.0,413.6 492.2,413.6 492.4,413.3 492.6,413.3 492.8,413.3 493.0,413.3 493.2,413.2 493.4,413.2 493.6,413.2 493.8,413.2 494.0,413.7 494.2,413.7 494.4,413.7 494.6,413.7 494.8,413.5 495.0,413.5 495.2,413.5 495.4,413.5 495.6,413.4 495.8,413.4 496.0,413.4 496.2,413.4 496.4,413.6 496.6,413.6 496.8,413.6 497.0,413.6 497.2,413.6 497.4,413.6 497.6,413.6 497.8,413.6 498.0,413.5 498.2,413.5 498.4,413.5 498.6,413.5 498.8,412.9 499.0,412.9 499.2,412.9 499.4,412.9 499.6,413.2 499.8,413.2 500.0,413.2 500.2,413.2 500.4,413.3 500.6,413.3 500.8,413.3 501.0,413.3 501.2,413.2 501.4,413.2 501.6,413.2 501.8,413.2 502.0,413.4 502.2,413.4 502.4,413.4 502.6,413.4 502.8,413.7 503.0,413.7 503.2,413.7 503.4,413.7 503.6,413.3 503.8,413.3 504.0,413.3 504.2,413.3 504.4,413.1 504.6,413.1 504.8,413.1 505.0,413.1 505.2,413.8 505.4,413.8 505.6,413.8 505.8,413.8 506.0,413.3 506.2,413.3 506.4,413.3 506.6,413.3 506.8,413.1 507.0,413.1 507.2,413.1 507.4,413.1 507.6,413.5 507.8,413.5 508.0,413.5 508.2,413.5 508.4,413.5 508.6,413.5 508.8,413.5 509.0,413.5 509.2,413.2 509.4,413.2 509.6,413.2 509.8,413.2 510.0,413.6 510.2,413.6 510.4,413.6 510.6,413.6 510.8,413.3 511.0,413.3 511.2,413.3 511.4,413.3 511.6,413.2 511.8,413.2 512.0,413.2 512.2,413.2 512.4,413.4 512.6,413.4 512.8,413.4 513.0,413.4 513.2,413.6 513.4,413.6 513.6,413.6 513.8,413.6 514.0,413.3 514.2,413.3 514.4,413.3 514.6,413.3 514.8,413.5 515.0,413.5 515.2,413.5 515.4,413.5 515.6,413.4 515.8,413.4 516.0,413.4 516.2,413.4 516.4,414.0 516.6,414.0 516.8,414.0 517.0,414.0 517.2,413.2 517.4,413.2 517.6,413.2 517.8,413.2 518.0,413.7 518.2,413.7 518.4,413.7 518.6,413.7 518.8,413.4 519.0,413.3 519.2,413.3 519.4,413.2 519.6,412.9 519.8,412.6 520.0,412.0 520.2,411.2 520.4,410.3 520.6,409.1 520.8,407.9 521.0,406.8 521.2,406.1 521.4,405.8 521.6,406.0 521.8,406.8 522.0,407.9 522.2,409.1 522.4,410.2 522.6,411.2 522.8,411.7 523.0,412.1 523.2,412.3 523.4,412.3 523.6,411.9 523.8,411.8 524.0,411.6 524.2,411.3 524.4,411.2 524.6,411.0 524.8,410.9 525.0,410.9 525.2,411.1 525.4,411.2 525.6,411.4 525.8,411.6 526.0,411.8 526.2,412.1 526.4,412.3 526.6,412.5 526.8,412.9 527.0,413.1 527.2,413.3 527.4,413.4 527.6,413.3 527.8,413.3 528.0,413.4 528.2,413.4 528.4,413.6 528.6,413.6 528.8,413.6 529.0,413.6 529.2,413.7 529.4,413.7 529.6,413.7 529.8,413.7 530.0,413.4 530.2,413.4 530.4,413.4 530.6,413.4 530.8,413.1 531.0,413.1 531.2,413.1 531.4,413.1 531.6,413.1 531.8,413.1 532.0,413.1 532.2,413.1 532.4,413.1 532.6,413.1 532.8,413.1 533.0,413.1 533.2,413.7 533.4,413.7 533.6,413.7 533.8,413.7 534.0,413.2 534.2,413.2 534.4,413.2 534.6,413.2 534.8,413.7 535.0,413.7 535.2,413.7 535.4,413.7 535.6,413.5 535.8,413.5 536.0,413.5 536.2,413.5 536.4,413.8 536.6,413.8 536.8,413.8 537.0,413.8 537.2,413.6 537.4,413.6 537.6,413.6 537.8,413.6 538.0,413.4 538.2,413.4 538.4,413.4 538.6,413.4 538.8,413.4 539.0,413.4 539.2,413.4 539.4,413.4 539.6,413.4 539.8,413.4 540.0,413.4 540.2,413.4 540.4,413.4 540.6,413.4 540.8,413.4 541.0,413.4 541.2,413.2 541.4,413.2 541.6,413.2 541.8,413.2 542.0,413.2 542.2,413.2 542.4,413.2 542.6,413.1 542.8,413.4 543.0,413.3 543.2,413.3 543.4,413.2 543.6,412.4 543.8,412.3 544.0,412.3 544.2,412.2 544.4,412.6 544.6,412.6 544.8,412.6 545.0,412.6 545.2,412.3 545.4,412.3 545.6,412.4 545.8,412.4 546.0,412.7 546.2,412.8 546.4,412.8 546.6,412.9 546.8,413.1 547.0,413.2 547.2,413.2 547.4,413.3 547.6,413.1 547.8,413.2 548.0,413.2 548.2,413.3 548.4,413.5 548.6,413.5 548.8,413.5 549.0,413.5 549.2,413.0 549.4,413.0 549.6,413.0 549.8,413.0 550.0,413.6 550.2,413.6 550.4,413.6 550.6,413.6 550.8,413.3 551.0,413.3 551.2,413.3 551.4,413.3 551.6,413.5 551.8,413.5 552.0,413.5 552.2,413.5 552.4,413.4 552.6,413.4 552.8,413.4 553.0,413.4 553.2,412.8 553.4,412.8 553.6,412.8 553.8,412.8 554.0,413.2 554.2,413.2 554.4,413.2 554.6,413.2 554.8,413.4 555.0,413.4 555.2,413.4 555.4,413.4 555.6,413.7 555.8,413.7 556.0,413.7 556.2,413.7 556.4,413.5 556.6,413.5 556.8,413.5 557.0,413.5 557.2,413.5 557.4,413.5 557.6,413.5 557.8,413.5 558.0,413.1 558.2,413.1 558.4,413.1 558.6,413.1 558.8,413.7 559.0,413.7 559.2,413.7 559.4,413.7 559.6,413.8 559.8,413.8 560.0,413.8 560.2,413.8 560.4,413.4 560.6,413.4 560.8,413.4 561.0,413.4 561.2,413.4 561.4,413.4 561.6,413.4 561.8,413.4 562.0,413.0 562.2,413.0 562.4,413.0 562.6,413.0 562.8,413.6 563.0,413.6 563.2,413.6 563.4,413.6 563.6,414.0 563.8,414.0 564.0,414.0 564.2,414.0 564.4,413.6 564.6,413.6 564.8,413.6 565.0,413.6 565.2,413.7 565.4,413.7 565.6,413.7 565.8,413.7 566.0,413.5 566.2,413.5 566.4,413.5 566.6,413.5 566.8,413.2 567.0,413.2 567.2,413.2 567.4,413.2 567.6,413.7 567.8,413.7 568.0,413.7 568.2,413.7 568.4,413.1 568.6,413.1 568.8,413.1 569.0,413.1 569.2,413.4 569.4,413.4 569.6,413.4 569.8,413.4 570.0,413.5 570.2,413.5 570.4,413.5 570.6,413.5 570.8,413.6 571.0,413.6 571.2,413.6 571.4,413.6 571.6,413.5 571.8,413.5 572.0,413.5 572.2,413.5 572.4,413.5 572.6,413.5 572.8,413.5 573.0,413.5 573.2,413.2 573.4,413.2 573.6,413.2 573.8,413.2 574.0,413.1 574.2,413.1 574.4,413.1 574.6,413.1 574.8,413.4 575.0,413.4 575.2,413.4 575.4,413.4 575.6,413.2 575.8,413.2 576.0,413.2 576.2,413.2 576.4,413.1 576.6,413.1 576.8,413.1 577.0,413.1 577.2,413.1 577.4,413.1 577.6,413.1 577.8,413.1 578.0,413.3 578.2,413.3 578.4,413.3 578.6,413.3 578.8,413.0 579.0,413.0 579.2,413.0 579.4,413.0 579.6,413.1 579.8,413.1 580.0,413.1 580.2,413.1 580.4,413.0 580.6,413.0 580.8,413.0 581.0,413.0 581.2,413.4 581.4,413.4 581.6,413.4 581.8,413.4 582.0,413.5 582.2,413.5 582.4,413.5 582.6,413.5 582.8,413.8 583.0,413.8 583.2,413.8 583.4,413.8 583.6,413.1 583.8,413.1 584.0,413.1 584.2,413.1 584.4,413.2 584.6,413.2 584.8,413.2 585.0,413.2 585.2,413.6 585.4,413.6 585.6,413.6 585.8,413.6 586.0,413.4 586.2,413.4 586.4,413.4 586.6,413.4 586.8,413.3 587.0,413.3 587.2,413.3 587.4,413.3 587.6,413.8 587.8,413.8 588.0,413.8 588.2,413.8 588.4,413.3 588.6,413.3 588.8,413.3 589.0,413.3 589.2,413.1 589.4,413.1 589.6,413.1 589.8,413.1 590.0,413.1 590.2,413.1 590.4,413.1 590.6,413.1 590.8,413.5 591.0,413.5 591.2,413.5 591.4,413.5 591.6,413.5 591.8,413.5 592.0,413.5 592.2,413.5 592.4,413.1 592.6,413.1 592.8,413.1 593.0,413.1 593.2,413.2 593.4,413.2 593.6,413.2 593.8,413.2 594.0,413.5 594.2,413.5 594.4,413.5 594.6,413.5 594.8,413.5 595.0,413.5 595.2,413.5 595.4,413.5 595.6,413.3 595.8,413.3 596.0,413.3 596.2,413.3 596.4,413.5 596.6,413.5 596.8,413.5 597.0,413.5 597.2,413.5 597.4,413.5 597.6,413.5 597.8,413.5 598.0,413.0 598.2,413.0 598.4,413.0 598.6,413.0 598.8,413.3 599.0,413.3 599.2,413.3 599.4,413.3 599.6,413.5 599.8,413.5 600.0,413.5 600.2,413.5 600.4,413.3 600.6,413.3 600.8,413.3 601.0,413.3 601.2,412.9 601.4,412.9 601.6,412.9 601.8,412.9 602.0,413.3 602.2,413.3 602.4,413.3 602.6,413.3 602.8,413.6 603.0,413.6 603.2,413.6 603.4,413.6 603.6,413.7 603.8,413.7 604.0,413.7 604.2,413.7 604.4,412.9 604.6,412.9 604.8,412.9 605.0,412.9 605.2,414.0 605.4,414.0 605.6,414.0 605.8,414.0 606.0,413.2 606.2,413.2 606.4,413.2 606.6,413.2 606.8,413.6 607.0,413.6 607.2,413.6 607.4,413.6 607.6,413.7 607.8,413.7 608.0,413.7 608.2,413.7 608.4,413.6 608.6,413.6 608.8,413.6 609.0,413.6 609.2,413.4 609.4,413.4 609.6,413.4 609.8,413.4 610.0,413.1 610.2,413.1 610.4,413.1 610.6,413.1 610.8,413.5 611.0,413.5 611.2,413.5 611.4,413.5 611.6,413.2 611.8,413.2 612.0,413.2 612.2,413.2 612.4,412.8 612.6,412.8 612.8,412.8 613.0,412.8 613.2,414.0 613.4,414.0 613.6,414.0 613.8,414.0 614.0,413.6 614.2,413.6 614.4,413.6 614.6,413.6 614.8,413.8 615.0,413.8 615.2,413.8 615.4,413.8 615.6,413.2 615.8,413.2 616.0,413.2 616.2,413.2 616.4,413.7 616.6,413.7 616.8,413.7 617.0,413.7 617.2,413.7 617.4,413.7 617.6,413.7 617.8,413.7 618.0,413.7 618.2,413.7 618.4,413.7 618.6,413.7 618.8,413.4 619.0,413.4 619.2,413.4 619.4,413.4 619.6,413.1 619.8,413.1 620.0,413.1 620.2,413.1 620.4,413.4 620.6,413.4 620.8,413.4 621.0,413.4 621.2,412.9 621.4,412.9 621.6,412.9 621.8,412.9 622.0,413.0 622.2,413.0 622.4,413.0 622.6,413.0 622.8,413.4 623.0,413.4 623.2,413.4 623.4,413.4 623.6,413.2 623.8,413.2 624.0,413.2 624.2,413.2 624.4,413.4 624.6,413.4 624.8,413.4 625.0,413.4 625.2,413.4 625.4,413.4 625.6,413.4 625.8,413.4 626.0,413.8 626.2,413.8 626.4,413.8 626.6,413.8 626.8,413.7 627.0,413.7 627.2,413.7 627.4,413.7 627.6,413.4 627.8,413.4 628.0,413.4 628.2,413.4 628.4,413.7 628.6,413.7 628.8,413.7 629.0,413.7 629.2,413.2 629.4,413.2 629.6,413.2 629.8,413.2 630.0,413.3 630.2,413.3 630.4,413.3 630.6,413.3 630.8,413.6 631.0,413.6 631.2,413.6 631.4,413.6 631.6,413.1 631.8,413.1 632.0,413.1 632.2,413.1 632.4,413.3 632.6,413.3 632.8,413.3 633.0,413.3 633.2,413.1 633.4,413.1 633.6,413.1 633.8,413.1 634.0,413.4 634.2,413.4 634.4,413.4 634.6,413.4 634.8,413.8 635.0,413.8 635.2,413.8 635.4,413.8 635.6,413.2 635.8,413.2 636.0,413.2 636.2,413.2 636.4,413.4" fill="none" stroke="#000" stroke-width="3.0" stroke-linejoin="round" stroke-linecap="butt"/>
<rect x="68.4" y="12.6" width="568.0" height="420.7" fill="none" stroke="#000" stroke-width="3.3"/>
<line x1="163.2" y1="433.3" x2="163.2" y2="425.1" stroke="#000" stroke-width="3.2" stroke-linecap="butt"/>
<line x1="257.8" y1="433.3" x2="257.8" y2="425.1" stroke="#000" stroke-width="3.2" stroke-linecap="butt"/>
<line x1="352.5" y1="433.3" x2="352.5" y2="425.1" stroke="#000" stroke-width="3.2" stroke-linecap="butt"/>
<line x1="447.2" y1="433.3" x2="447.2" y2="425.1" stroke="#000" stroke-width="3.2" stroke-linecap="butt"/>
<line x1="541.9" y1="433.3" x2="541.9" y2="425.1" stroke="#000" stroke-width="3.2" stroke-linecap="butt"/>
<line x1="115.8" y1="433.3" x2="115.8" y2="429.0" stroke="#000" stroke-width="3.2" stroke-linecap="butt"/>
<line x1="210.5" y1="433.3" x2="210.5" y2="429.0" stroke="#000" stroke-width="3.2" stroke-linecap="butt"/>
<line x1="305.2" y1="433.3" x2="305.2" y2="429.0" stroke="#000" stroke-width="3.2" stroke-linecap="butt"/>
<line x1="399.8" y1="433.3" x2="399.8" y2="429.0" stroke="#000" stroke-width="3.2" stroke-linecap="butt"/>
<line x1="494.5" y1="433.3" x2="494.5" y2="429.0" stroke="#000" stroke-width="3.2" stroke-linecap="butt"/>
<line x1="589.2" y1="433.3" x2="589.2" y2="429.0" stroke="#000" stroke-width="3.2" stroke-linecap="butt"/>
<text transform="translate(66.2,465.0) scale(1.02,1)" font-size="34" text-anchor="middle" textLength="37.3" lengthAdjust="spacing">10</text>
<text transform="translate(160.9,465.0) scale(1.02,1)" font-size="34" text-anchor="middle" textLength="37.3" lengthAdjust="spacing">20</text>
<text transform="translate(255.5,465.0) scale(1.02,1)" font-size="34" text-anchor="middle" textLength="37.3" lengthAdjust="spacing">30</text>
<text transform="translate(350.2,465.0) scale(1.02,1)" font-size="34" text-anchor="middle" textLength="37.3" lengthAdjust="spacing">40</text>
<text transform="translate(444.9,465.0) scale(1.02,1)" font-size="34" text-anchor="middle" textLength="37.3" lengthAdjust="spacing">50</text>
<text transform="translate(539.6,465.0) scale(1.02,1)" font-size="34" text-anchor="middle" textLength="37.3" lengthAdjust="spacing">60</text>
<text transform="translate(634.2,465.0) scale(1.02,1)" font-size="34" text-anchor="middle" textLength="37.3" lengthAdjust="spacing">70</text>
<line x1="261.1" y1="44.6" x2="315.4" y2="44.6" stroke="#e60012" stroke-width="3.4" stroke-linecap="butt"/>
<line x1="261.1" y1="76.6" x2="315.4" y2="76.6" stroke="#000" stroke-width="3.4" stroke-linecap="butt"/>
<text transform="translate(326.0,52.6) scale(1.08,1)" font-size="30" text-anchor="start" textLength="273.1" lengthAdjust="spacing"><tspan dy="0.0" font-size="30.0">MAPbI</tspan><tspan dy="5.2" font-size="21.0">3</tspan><tspan dy="-0.5" font-size="45.0">+</tspan><tspan dy="-4.8" font-size="30.0">BMIMBF</tspan><tspan dy="5.2" font-size="21.0">4</tspan></text>
<text transform="translate(326.0,86.0) scale(1.08,1)" font-size="30" text-anchor="start" textLength="182.4" lengthAdjust="spacing"><tspan dy="0.0" font-size="30.0">Pure MAPbI</tspan><tspan dy="5.2" font-size="21.0">3</tspan></text>
<text transform="translate(6.5,27.5) scale(1.08,1)" font-size="34" text-anchor="start" textLength="40.3" lengthAdjust="spacing"><tspan font-size="35.4">(</tspan>a<tspan font-size="35.4">)</tspan></text>
<text transform="translate(28.0,399.5) rotate(-90) scale(1.08,1)" font-size="34" text-anchor="start" textLength="319.4" lengthAdjust="spacing">Intensity <tspan font-size="35.4">(</tspan>arb. units<tspan font-size="35.4">)</tspan></text>
<text transform="translate(305.5,509.0) scale(1.08,1)" font-size="34" text-anchor="start" textLength="72.7" lengthAdjust="spacing">2<tspan font-style="italic">θ</tspan> <tspan font-size="35.4">(</tspan><tspan font-size="27" dy="-4">°</tspan><tspan dy="4" font-size="35.4">)</tspan></text>
<text transform="translate(136.4,87.0) rotate(-90) scale(1.02,1)" font-size="30.5" text-anchor="start" textLength="68.1" lengthAdjust="spacing"><tspan font-size="32.6">(</tspan>110<tspan font-size="32.6">)</tspan></text>
<text transform="translate(225.5,94.6) rotate(-90) scale(1.02,1)" font-size="30.5" text-anchor="start" textLength="68.1" lengthAdjust="spacing"><tspan font-size="32.6">(</tspan>220<tspan font-size="32.6">)</tspan></text>
<text transform="translate(280.7,358.4) rotate(-90) scale(1.02,1)" font-size="30.5" text-anchor="start" textLength="68.1" lengthAdjust="spacing"><tspan font-size="32.6">(</tspan>310<tspan font-size="32.6">)</tspan></text>
<text transform="translate(391.5,348.4) rotate(-90) scale(1.02,1)" font-size="30.5" text-anchor="start" textLength="68.1" lengthAdjust="spacing"><tspan font-size="32.6">(</tspan>330<tspan font-size="32.6">)</tspan></text>
<text transform="translate(536.8,349.8) rotate(-90) scale(1.02,1)" font-size="30.5" text-anchor="start" textLength="68.1" lengthAdjust="spacing"><tspan font-size="32.6">(</tspan>440<tspan font-size="32.6">)</tspan></text>
<text transform="translate(161.0,339.4) scale(1.02,1)" font-size="30" text-anchor="start" textLength="67.2" lengthAdjust="spacing">26.0<tspan font-size="25" dy="-3">°</tspan></text>
<text transform="translate(116.0,398.0) scale(1.02,1)" font-size="30" text-anchor="start" textLength="67.6" lengthAdjust="spacing">11.1<tspan font-size="25" dy="-3">°</tspan></text>
<line x1="220.3" y1="343.0" x2="220.3" y2="380.5" stroke="#000" stroke-width="2.6" stroke-linecap="butt"/>
<polygon points="220.3,391.5 216.5,378.5 224.1,378.5" fill="#000"/>
<line x1="115.2" y1="392.3" x2="89.8" y2="400.7" stroke="#2a3f9d" stroke-width="2.4" stroke-linecap="butt"/>
<polygon points="80.3,403.8 90.5,396.5 92.9,403.6" fill="#2a3f9d"/>
</g>
<g id="panel-b">
<polyline points="769.7,403.4 770.5,403.6 771.3,403.5 772.1,403.3 772.9,403.2 773.7,403.6 774.5,403.5 775.3,403.5 776.1,403.7 776.9,403.4 777.7,403.2 778.5,403.4 779.3,403.7 780.1,403.4 780.9,403.2 781.7,403.4 782.5,403.4 783.3,403.5 784.1,403.4 784.9,403.2 785.7,403.1 786.5,403.2 787.3,403.3 788.1,402.7 788.9,402.8 789.7,403.0 790.5,403.2 791.3,403.2 792.1,402.9 792.9,403.0 793.7,403.2 794.5,403.1 795.3,403.0 796.1,403.0 796.9,402.9 797.7,402.8 798.5,402.8 799.3,402.7 800.1,402.8 800.9,402.7 801.7,402.7 802.5,402.9 803.3,402.8 804.1,402.5 804.9,402.5 805.7,402.6 806.5,402.7 807.3,402.7 808.1,402.7 808.9,402.5 809.7,402.4 810.5,402.3 811.3,402.3 812.1,402.5 812.9,402.3 813.7,402.4 814.5,402.5 815.3,402.0 816.1,401.9 816.9,402.0 817.7,402.1 818.5,402.5 819.3,402.3 820.1,401.9 820.9,401.9 821.7,401.9 822.5,401.9 823.3,401.9 824.1,401.6 824.9,401.5 825.7,401.4 826.5,401.1 827.3,401.2 828.1,401.1 828.9,400.7 829.7,400.4 830.5,400.3 831.3,400.2 832.1,400.2 832.9,399.9 833.7,399.6 834.5,399.7 835.3,399.5 836.1,399.3 836.9,399.2 837.7,399.1 838.5,398.8 839.3,398.7 840.1,398.6 840.9,398.1 841.7,397.9 842.5,397.9 843.3,397.5 844.1,397.3 844.9,396.9 845.7,396.8 846.5,396.7 847.3,396.6 848.1,396.3 848.9,396.3 849.7,396.3 850.5,395.9 851.3,395.5 852.1,395.2 852.9,395.0 853.7,394.8 854.5,394.7 855.3,394.5 856.1,394.1 856.9,393.9 857.7,393.7 858.5,393.5 859.3,393.7 860.1,393.5 860.9,392.9 861.7,392.4 862.5,392.0 863.3,391.7 864.1,391.7 864.9,391.6 865.7,391.2 866.5,391.0 867.3,390.7 868.1,390.7 868.9,390.3 869.7,389.8 870.5,389.5 871.3,389.3 872.1,389.0 872.9,388.4 873.7,388.1 874.5,387.8 875.3,387.7 876.1,387.9 876.9,387.4 877.7,386.9 878.5,386.8 879.3,386.2 880.1,385.9 880.9,385.7 881.7,385.3 882.5,385.3 883.3,384.8 884.1,384.3 884.9,384.3 885.7,383.9 886.5,383.5 887.3,383.4 888.1,383.1 888.9,382.7 889.7,382.5 890.5,381.8 891.3,381.6 892.1,381.8 892.9,381.4 893.7,380.9 894.5,380.3 895.3,379.8 896.1,379.5 896.9,379.1 897.7,378.9 898.5,378.5 899.3,378.0 900.1,377.5 900.9,377.1 901.7,376.9 902.5,376.4 903.3,375.9 904.1,375.8 904.9,375.3 905.7,374.5 906.5,374.2 907.3,374.1 908.1,374.0 908.9,373.5 909.7,372.8 910.5,372.3 911.3,372.2 912.1,371.7 912.9,371.4 913.7,371.4 914.5,370.8 915.3,370.3 916.1,369.9 916.9,369.6 917.7,368.9 918.5,368.3 919.3,367.8 920.1,366.9 920.9,366.3 921.7,365.7 922.5,364.8 923.3,363.8 924.1,363.1 924.9,362.7 925.7,362.2 926.5,361.2 927.3,360.2 928.1,359.1 928.9,357.9 929.7,357.1 930.5,356.0 931.3,354.9 932.1,354.1 932.9,353.2 933.7,352.1 934.5,351.3 935.3,350.4 936.1,349.5 936.9,348.5 937.7,347.3 938.5,346.3 939.3,345.2 940.1,344.0 940.9,342.7 941.7,341.8 942.5,340.7 943.3,339.5 944.1,337.9 944.9,336.4 945.7,335.3 946.5,334.1 947.3,332.8 948.1,331.4 948.9,330.2 949.7,329.0 950.5,327.4 951.3,326.2 952.1,325.1 952.9,323.5 953.7,322.1 954.5,320.7 955.3,319.3 956.1,318.1 956.9,316.4 957.7,315.0 958.5,313.6 959.3,312.3 960.1,311.1 960.9,309.7 961.7,308.2 962.5,306.2 963.3,304.9 964.1,303.9 964.9,302.5 965.7,301.7 966.5,300.4 967.3,298.7 968.1,297.2 968.9,295.8 969.7,294.3 970.5,292.7 971.3,291.1 972.1,289.9 972.9,288.5 973.7,286.8 974.5,285.1 975.3,283.3 976.1,281.7 976.9,280.2 977.7,278.8 978.5,277.1 979.3,275.2 980.1,273.3 980.9,272.2 981.7,270.7 982.5,268.7 983.3,267.5 984.1,266.2 984.9,264.4 985.7,262.4 986.5,261.2 987.3,259.8 988.1,257.8 988.9,256.1 989.7,254.0 990.5,252.1 991.3,251.0 992.1,249.9 992.9,248.3 993.7,246.3 994.5,244.5 995.3,243.1 996.1,241.4 996.9,240.1 997.7,239.0 998.5,237.6 999.3,235.5 1000.1,232.5 1000.9,230.1 1001.7,227.4 1002.5,225.6 1003.3,224.8 1004.1,223.4 1004.9,221.9 1005.7,219.9 1006.5,217.8 1007.3,215.9 1008.1,214.2 1008.9,211.6 1009.7,208.8 1010.5,206.5 1011.3,205.0 1012.1,203.7 1012.9,201.1 1013.7,197.9 1014.5,195.3 1015.3,193.3 1016.1,190.8 1016.9,188.4 1017.7,186.1 1018.5,183.7 1019.3,181.4 1020.1,179.3 1020.9,176.4 1021.7,173.9 1022.5,171.4 1023.3,169.3 1024.1,166.9 1024.9,164.1 1025.7,161.4 1026.5,158.0 1027.3,155.9 1028.1,153.3 1028.9,150.5 1029.7,148.4 1030.5,144.3 1031.3,140.8 1032.1,138.8 1032.9,136.5 1033.7,134.0 1034.5,132.6 1035.3,131.1 1036.1,128.8 1036.9,126.7 1037.7,124.6 1038.5,122.3 1039.3,120.1 1040.1,118.8 1040.9,116.8 1041.7,114.2 1042.5,111.6 1043.3,110.2 1044.1,109.4 1044.9,107.5 1045.7,105.3 1046.5,104.3 1047.3,104.9 1048.1,103.0 1048.9,100.5 1049.7,99.8 1050.5,96.8 1051.3,95.6 1052.1,95.9 1052.9,95.8 1053.7,95.3 1054.5,93.1 1055.3,92.4 1056.1,92.4 1056.9,91.6 1057.7,90.9 1058.5,89.9 1059.3,89.3 1060.1,90.3 1060.9,91.3 1061.7,90.9 1062.5,89.4 1063.3,89.4 1064.1,89.9 1064.9,90.4 1065.7,90.9 1066.5,90.2 1067.3,90.2 1068.1,90.9 1068.9,91.5 1069.7,92.2 1070.5,92.3 1071.3,91.6 1072.1,92.5 1072.9,93.5 1073.7,94.9 1074.5,97.1 1075.3,97.0 1076.1,98.4 1076.9,101.1 1077.7,101.8 1078.5,103.5 1079.3,105.7 1080.1,105.1 1080.9,105.8 1081.7,108.1 1082.5,109.0 1083.3,110.7 1084.1,111.4 1084.9,112.0 1085.7,113.5 1086.5,115.0 1087.3,117.2 1088.1,118.6 1088.9,119.9 1089.7,123.0 1090.5,125.6 1091.3,127.5 1092.1,128.7 1092.9,130.4 1093.7,133.6 1094.5,136.5 1095.3,139.0 1096.1,142.0 1096.9,144.7 1097.7,146.7 1098.5,149.2 1099.3,151.9 1100.1,154.2 1100.9,156.9 1101.7,160.0 1102.5,162.4 1103.3,165.1 1104.1,168.2 1104.9,171.5 1105.7,174.6 1106.5,177.2 1107.3,180.0 1108.1,182.8 1108.9,185.9 1109.7,188.7 1110.5,190.3 1111.3,193.7 1112.1,197.3 1112.9,199.3 1113.7,202.1 1114.5,205.0 1115.3,208.7 1116.1,212.0 1116.9,213.6 1117.7,216.5 1118.5,219.7 1119.3,223.1 1120.1,225.8 1120.9,227.6 1121.7,231.0 1122.5,234.7 1123.3,237.8 1124.1,240.7 1124.9,244.5 1125.7,249.0 1126.5,251.4 1127.3,254.0 1128.1,257.0 1128.9,259.8 1129.7,262.5 1130.5,264.4 1131.3,267.0 1132.1,269.6 1132.9,271.7 1133.7,274.3 1134.5,276.8 1135.3,278.7 1136.1,281.7 1136.9,284.3 1137.7,286.0 1138.5,288.2 1139.3,290.1 1140.1,291.7 1140.9,293.8 1141.7,295.8 1142.5,297.8 1143.3,299.9 1144.1,301.5 1144.9,303.2 1145.7,305.1 1146.5,306.6 1147.3,308.3 1148.1,310.1 1148.9,312.0 1149.7,314.0 1150.5,315.5 1151.3,316.9 1152.1,318.6 1152.9,320.4 1153.7,322.2 1154.5,323.9 1155.3,325.4 1156.1,327.2 1156.9,329.0 1157.7,330.4 1158.5,332.0 1159.3,333.6 1160.1,334.9 1160.9,336.4 1161.7,337.8 1162.5,339.2 1163.3,340.7 1164.1,342.3 1164.9,343.9 1165.7,345.0 1166.5,346.4 1167.3,347.7 1168.1,348.8 1168.9,350.2 1169.7,351.5 1170.5,352.9 1171.3,354.2 1172.1,354.9 1172.9,356.3 1173.7,357.6 1174.5,358.5 1175.3,359.3 1176.1,360.6 1176.9,362.2 1177.7,363.2 1178.5,364.2 1179.3,365.3 1180.1,366.1 1180.9,366.9 1181.7,367.6 1182.5,368.3 1183.3,369.3 1184.1,370.2 1184.9,370.7 1185.7,371.4 1186.5,372.3 1187.3,372.8 1188.1,373.6 1188.9,374.4 1189.7,374.8 1190.5,375.4 1191.3,376.4 1192.1,377.0 1192.9,377.5 1193.7,378.4 1194.5,379.0 1195.3,379.4 1196.1,379.8 1196.9,380.6 1197.7,381.3 1198.5,381.7 1199.3,382.0 1200.1,382.7 1200.9,383.4 1201.7,383.8 1202.5,384.1 1203.3,384.5 1204.1,385.1 1204.9,385.6 1205.7,385.8 1206.5,386.1 1207.3,386.7 1208.1,386.9 1208.9,387.4 1209.7,387.9 1210.5,388.2 1211.3,388.6 1212.1,388.8 1212.9,389.1 1213.7,389.6 1214.5,390.0 1215.3,390.4 1216.1,390.5 1216.9,390.5 1217.7,391.0 1218.5,391.5 1219.3,392.0 1220.1,392.3 1220.9,392.2 1221.7,392.5 1222.5,392.8 1223.3,392.7 1224.1,393.4 1224.9,393.9 1225.7,393.9 1226.5,394.2 1227.3,394.6 1228.1,394.8 1228.9,394.9 1229.7,395.0 1230.5,394.8 1231.3,395.4 1232.1,395.9 1232.9,396.0 1233.7,396.1 1234.5,396.2 1235.3,396.3 1236.1,396.7 1236.9,397.0 1237.7,397.1 1238.5,397.2 1239.3,397.4 1240.1,397.6 1240.9,397.8 1241.7,397.7 1242.5,397.9 1243.3,398.5 1244.1,398.5 1244.9,398.4 1245.7,398.7 1246.5,399.0 1247.3,399.1 1248.1,398.9 1248.9,399.1 1249.7,399.3 1250.5,399.3 1251.3,399.6 1252.1,399.8 1252.9,400.0 1253.7,400.6 1254.5,400.7 1255.3,400.6 1256.1,400.5 1256.9,400.5 1257.7,400.6 1258.5,400.7 1259.3,400.9 1260.1,401.0 1260.9,401.2 1261.7,401.3 1262.5,401.3 1263.3,401.4 1264.1,401.7 1264.9,402.0 1265.7,402.2 1266.5,402.4 1267.3,402.4 1268.1,402.4 1268.9,402.4 1269.7,402.7 1270.5,403.1 1271.3,402.9 1272.1,402.7 1272.9,402.9 1273.7,402.9 1274.5,402.8 1275.3,403.2 1276.1,403.4 1276.9,403.3 1277.7,403.5 1278.5,403.5 1279.3,403.5 1280.1,403.7 1280.9,403.6 1281.7,403.8 1282.5,403.9 1283.3,404.1 1284.1,404.2 1284.9,404.3" fill="none" stroke="#000" stroke-width="3.4" stroke-linejoin="round" stroke-linecap="butt"/>
<polyline points="769.7,402.8 770.5,402.8 771.3,403.0 772.1,403.5 772.9,403.3 773.7,402.9 774.5,402.8 775.3,402.9 776.1,402.8 776.9,402.9 777.7,402.7 778.5,402.7 779.3,402.6 780.1,402.4 780.9,402.2 781.7,402.2 782.5,402.2 783.3,402.1 784.1,402.2 784.9,402.1 785.7,402.3 786.5,402.0 787.3,401.8 788.1,401.8 788.9,402.0 789.7,402.2 790.5,402.2 791.3,401.9 792.1,401.9 792.9,401.7 793.7,401.7 794.5,401.7 795.3,401.1 796.1,401.5 796.9,402.0 797.7,401.5 798.5,401.2 799.3,401.3 800.1,401.2 800.9,401.0 801.7,400.8 802.5,401.0 803.3,401.1 804.1,401.1 804.9,401.1 805.7,401.1 806.5,401.0 807.3,400.7 808.1,400.5 808.9,400.2 809.7,400.6 810.5,400.5 811.3,400.4 812.1,400.4 812.9,400.1 813.7,400.0 814.5,400.0 815.3,399.9 816.1,400.0 816.9,400.0 817.7,399.8 818.5,399.5 819.3,399.5 820.1,399.5 820.9,399.5 821.7,399.7 822.5,399.6 823.3,399.1 824.1,398.8 824.9,398.5 825.7,398.2 826.5,398.0 827.3,397.9 828.1,397.7 828.9,397.7 829.7,397.5 830.5,397.1 831.3,396.8 832.1,396.8 832.9,396.8 833.7,396.6 834.5,396.4 835.3,396.1 836.1,395.7 836.9,395.4 837.7,395.5 838.5,395.1 839.3,394.7 840.1,394.8 840.9,394.5 841.7,394.2 842.5,394.1 843.3,393.7 844.1,393.3 844.9,393.1 845.7,392.7 846.5,392.5 847.3,392.4 848.1,392.2 848.9,392.1 849.7,391.6 850.5,391.6 851.3,391.7 852.1,391.3 852.9,390.8 853.7,390.5 854.5,390.3 855.3,390.1 856.1,389.6 856.9,389.4 857.7,389.7 858.5,389.1 859.3,388.5 860.1,388.5 860.9,388.1 861.7,387.9 862.5,387.5 863.3,387.0 864.1,387.0 864.9,386.7 865.7,386.1 866.5,385.8 867.3,385.5 868.1,385.3 868.9,384.9 869.7,384.5 870.5,384.1 871.3,383.7 872.1,383.5 872.9,382.7 873.7,382.4 874.5,382.2 875.3,381.7 876.1,381.7 876.9,381.2 877.7,380.5 878.5,380.5 879.3,380.2 880.1,379.8 880.9,379.5 881.7,378.7 882.5,378.3 883.3,378.1 884.1,377.8 884.9,377.3 885.7,376.7 886.5,376.2 887.3,375.7 888.1,375.5 888.9,375.2 889.7,374.3 890.5,373.8 891.3,373.5 892.1,373.2 892.9,372.6 893.7,371.9 894.5,371.5 895.3,370.8 896.1,370.1 896.9,369.9 897.7,369.5 898.5,368.9 899.3,368.6 900.1,368.0 900.9,367.2 901.7,366.8 902.5,366.3 903.3,365.4 904.1,364.7 904.9,364.2 905.7,363.4 906.5,362.8 907.3,362.3 908.1,361.4 908.9,360.9 909.7,360.6 910.5,360.0 911.3,359.2 912.1,358.6 912.9,358.1 913.7,357.5 914.5,356.6 915.3,355.8 916.1,354.9 916.9,353.8 917.7,353.2 918.5,352.1 919.3,350.8 920.1,350.0 920.9,348.9 921.7,347.6 922.5,346.5 923.3,345.5 924.1,343.9 924.9,342.4 925.7,341.4 926.5,340.1 927.3,338.9 928.1,337.8 928.9,336.8 929.7,335.6 930.5,334.4 931.3,333.5 932.1,332.1 932.9,330.9 933.7,330.0 934.5,328.7 935.3,326.9 936.1,325.4 936.9,323.8 937.7,322.2 938.5,320.8 939.3,319.0 940.1,317.1 940.9,315.8 941.7,314.2 942.5,312.4 943.3,310.7 944.1,308.9 944.9,307.3 945.7,306.2 946.5,304.6 947.3,302.5 948.1,300.9 948.9,299.4 949.7,298.0 950.5,296.5 951.3,295.3 952.1,293.7 952.9,292.0 953.7,290.4 954.5,288.7 955.3,286.7 956.1,284.8 956.9,283.3 957.7,281.5 958.5,279.3 959.3,277.6 960.1,276.1 960.9,274.0 961.7,272.2 962.5,270.4 963.3,268.7 964.1,266.6 964.9,264.5 965.7,263.0 966.5,261.5 967.3,259.5 968.1,257.4 968.9,255.4 969.7,253.7 970.5,252.2 971.3,250.0 972.1,248.2 972.9,246.7 973.7,244.2 974.5,242.1 975.3,239.8 976.1,237.1 976.9,234.9 977.7,233.1 978.5,231.1 979.3,228.8 980.1,226.6 980.9,223.9 981.7,221.8 982.5,219.9 983.3,217.5 984.1,215.8 984.9,213.7 985.7,211.6 986.5,209.9 987.3,208.5 988.1,207.3 988.9,205.7 989.7,203.3 990.5,201.0 991.3,199.0 992.1,197.4 992.9,195.0 993.7,193.1 994.5,191.6 995.3,188.7 996.1,186.9 996.9,185.5 997.7,183.5 998.5,181.5 999.3,179.4 1000.1,177.4 1000.9,175.9 1001.7,173.3 1002.5,171.3 1003.3,169.3 1004.1,166.6 1004.9,163.8 1005.7,161.3 1006.5,159.6 1007.3,156.8 1008.1,154.3 1008.9,152.7 1009.7,150.3 1010.5,147.0 1011.3,144.7 1012.1,144.0 1012.9,141.6 1013.7,139.1 1014.5,136.2 1015.3,134.3 1016.1,133.0 1016.9,131.0 1017.7,128.2 1018.5,126.0 1019.3,124.7 1020.1,122.6 1020.9,120.1 1021.7,117.2 1022.5,116.8 1023.3,114.6 1024.1,111.0 1024.9,109.3 1025.7,107.1 1026.5,106.0 1027.3,105.7 1028.1,102.7 1028.9,98.9 1029.7,98.2 1030.5,98.2 1031.3,96.3 1032.1,94.6 1032.9,92.0 1033.7,89.6 1034.5,87.8 1035.3,85.6 1036.1,85.7 1036.9,84.8 1037.7,84.3 1038.5,83.5 1039.3,80.4 1040.1,79.7 1040.9,80.3 1041.7,79.3 1042.5,76.5 1043.3,75.6 1044.1,76.6 1044.9,75.3 1045.7,73.3 1046.5,73.8 1047.3,74.1 1048.1,72.4 1048.9,71.7 1049.7,71.7 1050.5,71.9 1051.3,72.3 1052.1,72.8 1052.9,73.2 1053.7,71.4 1054.5,71.4 1055.3,73.4 1056.1,73.8 1056.9,74.4 1057.7,74.2 1058.5,73.3 1059.3,74.9 1060.1,75.4 1060.9,74.1 1061.7,76.3 1062.5,78.1 1063.3,78.2 1064.1,78.7 1064.9,79.2 1065.7,80.6 1066.5,82.6 1067.3,85.1 1068.1,85.5 1068.9,87.3 1069.7,89.6 1070.5,90.1 1071.3,92.9 1072.1,95.2 1072.9,95.6 1073.7,98.5 1074.5,100.7 1075.3,101.6 1076.1,104.1 1076.9,106.6 1077.7,108.1 1078.5,109.9 1079.3,111.7 1080.1,113.8 1080.9,115.8 1081.7,117.2 1082.5,120.8 1083.3,123.4 1084.1,124.8 1084.9,128.1 1085.7,130.5 1086.5,131.3 1087.3,133.8 1088.1,135.7 1088.9,138.0 1089.7,141.4 1090.5,143.1 1091.3,144.8 1092.1,147.9 1092.9,151.0 1093.7,153.3 1094.5,156.3 1095.3,158.6 1096.1,160.8 1096.9,164.1 1097.7,166.8 1098.5,169.7 1099.3,172.0 1100.1,174.7 1100.9,177.8 1101.7,180.0 1102.5,182.3 1103.3,184.8 1104.1,188.2 1104.9,191.0 1105.7,193.6 1106.5,196.9 1107.3,199.8 1108.1,202.5 1108.9,204.5 1109.7,206.1 1110.5,209.0 1111.3,211.9 1112.1,214.3 1112.9,216.7 1113.7,219.3 1114.5,222.1 1115.3,224.5 1116.1,227.0 1116.9,229.4 1117.7,231.9 1118.5,234.5 1119.3,237.2 1120.1,239.5 1120.9,242.2 1121.7,244.8 1122.5,247.0 1123.3,249.4 1124.1,251.5 1124.9,254.3 1125.7,256.6 1126.5,258.1 1127.3,260.3 1128.1,262.8 1128.9,265.6 1129.7,268.0 1130.5,269.9 1131.3,272.0 1132.1,274.1 1132.9,276.7 1133.7,279.3 1134.5,281.2 1135.3,283.1 1136.1,285.4 1136.9,287.1 1137.7,289.0 1138.5,291.0 1139.3,292.4 1140.1,294.3 1140.9,296.6 1141.7,298.1 1142.5,299.5 1143.3,301.5 1144.1,303.4 1144.9,305.0 1145.7,306.9 1146.5,308.3 1147.3,309.9 1148.1,311.6 1148.9,313.1 1149.7,314.7 1150.5,316.4 1151.3,318.2 1152.1,319.8 1152.9,321.2 1153.7,322.8 1154.5,324.5 1155.3,326.0 1156.1,327.5 1156.9,329.2 1157.7,330.7 1158.5,332.2 1159.3,333.7 1160.1,335.5 1160.9,337.2 1161.7,338.4 1162.5,339.6 1163.3,341.3 1164.1,342.7 1164.9,343.7 1165.7,345.0 1166.5,346.4 1167.3,347.9 1168.1,349.1 1168.9,350.4 1169.7,351.5 1170.5,352.6 1171.3,353.8 1172.1,355.2 1172.9,356.5 1173.7,357.4 1174.5,358.7 1175.3,360.0 1176.1,360.8 1176.9,361.7 1177.7,362.7 1178.5,363.7 1179.3,364.8 1180.1,365.6 1180.9,366.4 1181.7,367.3 1182.5,368.1 1183.3,369.0 1184.1,370.1 1184.9,370.5 1185.7,371.0 1186.5,372.0 1187.3,372.7 1188.1,373.4 1188.9,374.0 1189.7,374.6 1190.5,375.4 1191.3,376.2 1192.1,376.7 1192.9,377.4 1193.7,378.0 1194.5,378.4 1195.3,379.1 1196.1,379.9 1196.9,380.3 1197.7,381.0 1198.5,381.7 1199.3,381.9 1200.1,382.1 1200.9,383.0 1201.7,383.7 1202.5,383.9 1203.3,384.0 1204.1,384.4 1204.9,385.0 1205.7,385.3 1206.5,385.7 1207.3,386.2 1208.1,386.4 1208.9,387.1 1209.7,387.5 1210.5,387.8 1211.3,388.3 1212.1,388.7 1212.9,388.9 1213.7,389.2 1214.5,389.4 1215.3,389.9 1216.1,390.4 1216.9,390.4 1217.7,390.6 1218.5,391.1 1219.3,391.5 1220.1,391.9 1220.9,392.3 1221.7,392.2 1222.5,392.3 1223.3,392.5 1224.1,392.8 1224.9,393.2 1225.7,393.7 1226.5,394.0 1227.3,393.6 1228.1,393.7 1228.9,394.2 1229.7,394.4 1230.5,394.5 1231.3,394.8 1232.1,395.1 1232.9,395.4 1233.7,395.4 1234.5,395.7 1235.3,396.0 1236.1,396.0 1236.9,396.1 1237.7,396.2 1238.5,396.6 1239.3,396.7 1240.1,396.8 1240.9,397.3 1241.7,397.4 1242.5,397.5 1243.3,397.6 1244.1,397.9 1244.9,398.3 1245.7,398.3 1246.5,398.1 1247.3,398.1 1248.1,398.6 1248.9,399.1 1249.7,399.2 1250.5,399.3 1251.3,399.3 1252.1,399.3 1252.9,399.5 1253.7,399.7 1254.5,399.7 1255.3,399.9 1256.1,400.4 1256.9,400.2 1257.7,400.0 1258.5,400.4 1259.3,400.6 1260.1,400.4 1260.9,400.7 1261.7,401.1 1262.5,401.1 1263.3,401.5 1264.1,401.6 1264.9,401.4 1265.7,401.5 1266.5,401.6 1267.3,401.6 1268.1,401.9 1268.9,402.0 1269.7,402.0 1270.5,402.4 1271.3,402.6 1272.1,402.6 1272.9,402.6 1273.7,402.7 1274.5,402.9 1275.3,402.9 1276.1,403.1 1276.9,403.0 1277.7,402.8 1278.5,402.9 1279.3,402.9 1280.1,403.2 1280.9,403.5 1281.7,403.5 1282.5,403.4 1283.3,403.5 1284.1,403.4 1284.9,403.4" fill="none" stroke="#e60012" stroke-width="3.4" stroke-linejoin="round" stroke-linecap="butt"/>
<rect x="730.4" y="16.8" width="567.3" height="420.3" fill="none" stroke="#000" stroke-width="3.3"/>
<line x1="819.7" y1="437.1" x2="819.7" y2="428.9" stroke="#000" stroke-width="3.2" stroke-linecap="butt"/>
<line x1="939.2" y1="437.1" x2="939.2" y2="428.9" stroke="#000" stroke-width="3.2" stroke-linecap="butt"/>
<line x1="1058.7" y1="437.1" x2="1058.7" y2="428.9" stroke="#000" stroke-width="3.2" stroke-linecap="butt"/>
<line x1="1178.2" y1="437.1" x2="1178.2" y2="428.9" stroke="#000" stroke-width="3.2" stroke-linecap="butt"/>
<line x1="760.0" y1="437.1" x2="760.0" y2="432.8" stroke="#000" stroke-width="3.2" stroke-linecap="butt"/>
<line x1="879.5" y1="437.1" x2="879.5" y2="432.8" stroke="#000" stroke-width="3.2" stroke-linecap="butt"/>
<line x1="999.0" y1="437.1" x2="999.0" y2="432.8" stroke="#000" stroke-width="3.2" stroke-linecap="butt"/>
<line x1="1118.5" y1="437.1" x2="1118.5" y2="432.8" stroke="#000" stroke-width="3.2" stroke-linecap="butt"/>
<line x1="1238.0" y1="437.1" x2="1238.0" y2="432.8" stroke="#000" stroke-width="3.2" stroke-linecap="butt"/>
<text transform="translate(820.3,469.0) scale(1.02,1)" font-size="34" text-anchor="middle" textLength="55.9" lengthAdjust="spacing">680</text>
<text transform="translate(939.8,469.0) scale(1.02,1)" font-size="34" text-anchor="middle" textLength="55.9" lengthAdjust="spacing">720</text>
<text transform="translate(1059.3,469.0) scale(1.02,1)" font-size="34" text-anchor="middle" textLength="55.9" lengthAdjust="spacing">760</text>
<text transform="translate(1178.8,469.0) scale(1.02,1)" font-size="34" text-anchor="middle" textLength="55.9" lengthAdjust="spacing">800</text>
<text transform="translate(1298.3,469.0) scale(1.02,1)" font-size="34" text-anchor="middle" textLength="55.9" lengthAdjust="spacing">840</text>
<text transform="translate(673.5,46.0) scale(1.08,1)" font-size="34" text-anchor="start" textLength="43.5" lengthAdjust="spacing"><tspan font-size="35.4">(</tspan>b<tspan font-size="35.4">)</tspan></text>
<text transform="translate(702.0,418.5) rotate(-90) scale(1.08,1)" font-size="34" text-anchor="start" textLength="321.8" lengthAdjust="spacing">Intensity <tspan font-size="35.4">(</tspan>arb. units<tspan font-size="35.4">)</tspan></text>
<text transform="translate(902.5,503.0) scale(1.08,1)" font-size="34" text-anchor="start" textLength="262.5" lengthAdjust="spacing">Wavelength <tspan font-size="35.4">(</tspan>nm<tspan font-size="35.4">)</tspan></text>
<text transform="translate(1064.0,50.0) scale(1.08,1)" font-size="34" text-anchor="start" textLength="111.6" lengthAdjust="spacing">758 nm</text>
<text transform="translate(1084.0,95.0) scale(1.08,1)" font-size="34" text-anchor="start" textLength="112.0" lengthAdjust="spacing">761 nm</text>
<line x1="1052.9" y1="29.7" x2="1052.9" y2="58.5" stroke="#e60012" stroke-width="2.6" stroke-linecap="butt"/>
<polygon points="1052.9,69.5 1048.7,56.5 1057.1,56.5" fill="#e60012"/>
<line x1="1066.4" y1="141.7" x2="1066.4" y2="104.5" stroke="#000" stroke-width="2.6" stroke-linecap="butt"/>
<polygon points="1066.4,88.5 1070.2,106.5 1062.6,106.5" fill="#000"/>
<line x1="913.0" y1="387.6" x2="950.0" y2="387.6" stroke="#000" stroke-width="3.4" stroke-linecap="butt"/>
<line x1="913.0" y1="418.3" x2="950.0" y2="418.3" stroke="#e60012" stroke-width="3.4" stroke-linecap="butt"/>
<text transform="translate(961.4,396.3) scale(1.08,1)" font-size="30" text-anchor="start" textLength="181.9" lengthAdjust="spacing"><tspan dy="0.0" font-size="30.0">Pure MAPbI</tspan><tspan dy="5.2" font-size="21.0">3</tspan></text>
<text transform="translate(961.4,426.0) scale(1.08,1)" font-size="30" text-anchor="start" textLength="271.8" lengthAdjust="spacing"><tspan dy="0.0" font-size="30.0">MAPbI</tspan><tspan dy="5.2" font-size="21.0">3</tspan><tspan dy="-0.5" font-size="45.0">+</tspan><tspan dy="-4.8" font-size="30.0">BMIMBF</tspan><tspan dy="5.2" font-size="21.0">4</tspan></text>
</g>
<g id="panel-c">
<polyline points="1400.6,256.7 1402.0,211.5 1403.4,200.3 1404.8,189.3 1406.2,198.9 1407.6,165.8 1409.0,185.0 1410.4,166.3 1411.8,171.0 1413.2,149.9 1414.6,141.9 1416.0,156.5 1417.4,158.5 1418.8,138.2 1420.2,152.6 1421.6,134.4 1423.0,151.6 1424.4,131.2 1425.8,142.9 1427.2,117.6 1428.6,146.1 1430.0,120.6 1431.4,148.2 1432.8,115.7 1434.2,143.6 1435.6,115.4 1437.0,115.8 1438.4,117.5 1439.8,150.4 1441.2,120.7 1442.6,151.5 1444.0,116.3 1445.4,120.0 1446.8,117.2 1448.2,137.2 1449.6,116.0 1451.0,144.8 1452.4,108.8 1453.8,108.1 1455.2,138.0 1456.6,135.8 1458.0,114.4 1459.4,146.8 1460.8,115.3 1462.2,108.2 1463.6,107.9 1465.0,137.1 1466.4,136.6 1467.8,142.8 1469.2,101.9 1470.6,135.7 1472.0,97.5 1473.4,133.9 1474.8,131.6 1477.6,163.8 1479.0,146.8 1480.4,151.3 1481.8,137.9 1483.2,150.3 1484.6,131.6 1486.0,150.1 1487.4,138.3 1488.8,150.5 1490.2,148.0 1491.6,155.6 1493.0,136.8 1494.4,124.2 1495.8,148.3 1497.2,135.9 1498.6,132.0 1500.0,142.7 1501.4,131.0 1502.8,139.4 1504.2,127.7 1505.6,138.7 1507.0,128.3 1508.4,144.2 1509.8,129.8 1511.2,130.1 1512.6,125.8 1514.0,135.1 1515.4,129.7 1516.8,136.7 1518.2,128.3 1519.6,129.7 1521.0,131.3 1522.4,140.8 1523.8,139.0 1525.2,139.0 1526.6,130.8 1528.0,137.5 1529.4,133.5 1530.8,138.7 1532.2,131.4 1533.6,138.8 1535.0,141.1 1536.4,138.3 1537.8,129.0 1539.2,140.8 1540.6,132.0 1542.0,142.1 1543.4,133.7 1544.8,142.4 1546.2,140.6 1547.6,134.0 1549.0,133.2 1550.4,134.8 1551.8,142.0 1553.2,141.1 1554.6,135.3 1556.0,135.5 1557.4,136.3 1558.8,141.6 1560.2,133.9 1561.6,141.9 1563.0,133.7 1564.4,138.5 1565.8,132.4 1567.2,136.2 1568.4,174.3 1569.8,169.3 1571.2,170.7 1572.6,167.5 1574.0,171.0 1575.4,169.7 1576.8,169.5 1578.2,164.8 1579.6,169.1 1581.0,168.8 1582.4,163.9 1583.8,167.5 1585.2,167.3 1586.6,163.1 1588.0,167.7 1589.4,162.5 1590.8,162.8 1592.2,162.7 1593.6,166.2 1595.0,163.8 1596.4,168.4 1597.8,167.1 1599.2,165.9 1600.6,163.0 1602.0,165.7 1603.4,163.6 1604.8,165.9 1606.2,162.7 1607.6,167.2 1609.0,162.9 1610.4,165.0 1611.8,163.1 1613.2,165.0 1614.6,162.9 1616.0,166.2 1617.4,162.7 1618.8,164.9 1620.2,162.3 1621.6,166.5 1623.0,166.2 1624.4,167.0 1625.8,163.5 1627.2,165.9 1628.6,164.1 1630.0,167.0 1631.4,163.4 1632.8,167.6 1634.2,165.6 1635.6,169.7 1637.0,167.2 1638.4,169.9 1639.8,169.2 1641.2,171.7 1642.6,170.9 1644.0,174.9 1645.4,173.1 1646.8,177.0 1648.2,175.5 1649.6,178.4 1651.0,178.1 1652.4,180.9 1653.8,180.9 1655.2,183.4 1656.6,183.8 1658.0,187.2 1659.4,187.6 1660.8,190.4 1662.2,190.6 1663.6,193.3 1665.0,195.3 1666.4,195.9 1667.8,197.8 1669.2,201.2 1670.6,201.5 1672.0,203.7 1673.4,205.4 1674.8,208.4 1676.2,209.6 1677.6,212.0 1679.0,213.3 1680.4,215.9 1681.8,217.4 1683.2,220.0 1684.6,221.3 1686.0,224.1 1687.4,225.5 1688.8,228.1 1690.2,229.5 1691.6,231.9 1693.0,233.5 1694.4,235.2 1695.8,237.2 1697.2,239.4 1698.6,241.4 1700.0,243.1 1701.4,244.6 1702.8,246.7 1704.2,248.0 1705.6,250.3 1707.0,251.7 1708.4,253.8 1709.8,255.4 1711.2,257.2 1712.6,258.8 1714.0,260.5 1715.4,262.1 1716.8,263.7 1718.2,265.3 1719.6,266.8 1721.0,268.3 1722.4,269.8 1723.8,271.2 1725.2,272.7 1726.6,274.1 1728.0,275.6 1729.4,277.0 1730.8,278.5 1732.2,280.0 1733.6,281.4 1735.0,282.9 1736.4,284.3 1737.8,285.7 1739.2,287.0 1740.6,288.4 1742.0,289.6 1743.4,290.9 1744.8,292.1 1746.2,293.3 1747.6,294.5 1749.0,295.6 1750.4,296.7 1751.8,297.8 1753.2,298.9 1754.6,299.9 1756.0,300.9 1757.4,301.8 1758.8,302.7 1760.2,303.6 1761.6,304.6 1763.0,305.5 1764.4,306.4 1765.8,307.3 1767.2,308.2 1768.6,309.2 1770.0,310.1 1771.4,310.9 1772.8,311.8 1774.2,312.7 1775.6,313.6 1777.0,314.5 1778.4,315.3 1779.8,316.2 1781.2,317.0 1782.6,317.9 1784.0,318.7 1785.4,319.5 1786.8,320.2 1788.2,320.9 1789.6,321.6 1791.0,322.3 1792.4,322.9 1793.8,323.6 1795.2,324.2 1796.6,324.8 1798.0,325.5 1799.4,326.1 1800.8,326.7 1802.2,327.3 1803.6,327.9 1805.0,328.4 1806.4,329.0 1807.8,329.6 1809.2,330.1 1810.6,330.7 1812.0,331.2 1813.4,331.7 1814.8,332.2 1816.2,332.6 1817.6,333.1 1819.0,333.5 1820.4,333.9 1821.8,334.3 1823.2,334.7 1824.6,335.1 1826.0,335.5 1827.4,335.9 1828.8,336.3 1830.2,336.7 1831.6,337.1 1833.0,337.5 1834.4,337.9 1835.8,338.3 1837.2,338.7 1838.6,339.1 1840.0,339.5 1841.4,339.8 1842.8,340.2 1844.2,340.6 1845.6,341.0 1847.0,341.3 1848.4,341.7 1849.8,342.0 1851.2,342.4 1852.6,342.7 1854.0,343.0 1855.4,343.3 1856.8,343.6 1858.2,343.9 1859.6,344.2 1861.0,344.5 1862.4,344.8 1863.8,345.1 1865.2,345.3 1866.6,345.6 1868.0,345.8 1869.4,346.0 1870.8,346.3 1872.2,346.5 1873.6,346.7 1875.0,346.8 1876.4,347.0 1877.8,347.2 1879.2,347.4 1880.6,347.6 1882.0,347.8 1883.4,347.9 1884.8,348.1 1886.2,348.2 1887.6,348.3 1889.0,348.5 1890.4,348.6 1891.8,348.8 1893.2,349.0 1894.6,349.3 1896.0,349.6 1897.4,350.0 1898.8,350.5 1900.2,351.1 1901.6,351.6 1903.0,352.2 1904.4,352.9 1905.8,353.6 1907.2,354.4 1908.6,355.2 1910.0,356.3 1911.4,357.6 1912.8,359.3 1914.2,361.2 1915.6,363.2 1917.0,365.1 1918.4,367.1 1919.8,369.3 1921.2,371.5 1922.6,374.1 1924.0,376.8 1925.4,379.6 1926.8,382.1 1928.2,384.5 1929.6,386.8 1931.0,389.0 1932.4,391.0 1933.8,392.9 1935.2,394.7 1936.6,396.2 1938.0,397.5 1939.4,398.8 1940.8,399.9 1942.2,401.0 1943.6,401.9 1945.0,402.6 1946.4,403.1 1947.8,403.6 1949.2,404.0 1950.6,404.4 1952.0,404.7 1953.4,405.0 1954.8,405.3 1956.2,405.6 1957.6,405.9 1959.0,406.1 1960.4,406.3 1961.8,406.5 1963.2,406.7 1964.6,406.8" fill="none" stroke="#000" stroke-width="3.4" stroke-linejoin="miter" stroke-linecap="butt"/>
<polyline points="1398.4,294.1 1399.1,289.7 1399.8,289.7 1400.5,294.1 1401.2,296.0 1401.9,291.5 1402.6,298.7 1403.3,294.3 1404.0,297.4 1404.7,298.5 1405.4,299.7 1406.1,299.0 1406.8,302.6 1407.5,303.1 1408.2,303.7 1408.9,304.5 1409.6,305.1 1410.3,306.5 1411.0,308.8 1411.7,309.3 1412.4,310.5 1413.1,311.5 1413.8,312.5 1414.5,313.4 1415.2,314.3 1415.9,315.1 1416.6,315.9 1417.3,316.6 1418.0,317.3 1418.7,318.0 1419.4,318.7 1420.1,319.3 1420.8,319.9 1421.5,320.5 1422.2,321.1 1422.9,321.6 1423.6,322.0 1424.3,322.5 1425.0,322.9 1425.7,323.3 1426.4,323.8 1427.1,324.2 1427.8,324.6 1428.5,325.0 1429.2,325.3 1429.9,325.7 1430.6,326.0 1431.3,326.3 1432.0,326.6 1432.7,326.9 1433.4,327.2 1434.1,327.4 1434.8,327.6 1435.5,327.8 1436.2,327.9 1436.9,328.1 1437.6,328.2 1438.3,328.3 1439.0,328.4 1439.7,328.5 1440.4,328.6 1441.1,328.7 1441.8,328.8 1442.5,328.9 1443.2,329.0 1443.9,329.1 1444.6,329.2 1445.3,329.2 1446.0,329.3 1446.7,329.4 1447.4,329.4 1448.1,329.5 1448.8,329.6 1449.5,329.6 1450.2,329.7 1450.9,329.8 1451.6,329.8 1452.3,329.9 1453.0,330.0 1453.7,330.0 1454.4,330.1 1455.1,330.1 1455.8,330.2 1456.5,330.2 1457.2,330.3 1457.9,330.3 1458.6,330.4 1459.3,330.4 1460.0,330.5 1460.7,330.5 1461.4,330.5 1462.1,330.6 1462.8,330.7 1463.5,330.7 1464.2,330.8 1464.9,330.8 1465.6,330.9 1466.3,331.0 1467.0,331.0 1467.7,331.1 1468.4,331.3 1469.1,331.4 1469.8,331.5 1470.5,331.7 1471.2,331.8 1471.9,332.0 1472.6,332.1 1473.3,332.2 1474.0,332.4 1474.7,332.5 1475.4,332.6 1476.1,332.7 1476.8,332.8 1477.5,332.8 1478.2,332.8 1478.9,332.8 1479.6,332.7 1480.3,332.7 1481.0,332.6 1481.7,332.5 1482.4,332.3 1483.1,332.2 1483.8,332.1 1484.5,331.9 1485.2,331.8 1485.9,331.6 1486.6,331.5 1487.3,331.3 1488.0,331.2 1488.7,331.1 1489.4,331.0 1490.1,331.0 1490.8,330.9 1491.5,330.8 1492.2,330.7 1492.9,330.7 1493.6,330.6 1494.3,330.6 1495.0,330.5 1495.7,330.4 1496.4,330.4 1497.1,330.3 1497.8,330.3 1498.5,330.2 1499.2,330.2 1499.9,330.1 1500.6,330.1 1501.3,330.0 1502.0,330.0 1502.7,329.9 1503.4,329.9 1504.1,329.8 1504.8,329.8 1505.5,329.8 1506.2,329.7 1506.9,329.7 1507.6,329.6 1508.3,329.6 1509.0,329.6 1509.7,329.5 1510.4,329.5 1511.1,329.5 1511.8,329.4 1512.5,329.4 1513.2,329.4 1513.9,329.3 1514.6,329.3 1515.3,329.3 1516.0,329.3 1516.7,329.2 1517.4,329.2 1518.1,329.2 1518.8,329.1 1519.5,329.1 1520.2,329.1 1520.9,329.1 1521.6,329.0 1522.3,329.0 1523.0,329.0 1523.7,328.9 1524.4,328.9 1525.1,328.9 1525.8,328.9 1526.5,328.8 1527.2,328.8 1527.9,328.8 1528.6,328.8 1529.3,328.7 1530.0,328.7 1530.7,328.7 1531.4,328.7 1532.1,328.7 1532.8,328.6 1533.5,328.6 1534.2,328.6 1534.9,328.6 1535.6,328.6 1536.3,328.6 1537.0,328.6 1537.7,328.5 1538.4,328.5 1539.1,328.5 1539.8,328.5 1540.5,328.5 1541.2,328.5 1541.9,328.5 1542.6,328.5 1543.3,328.5 1544.0,328.5 1544.7,328.5 1545.4,328.5 1546.1,328.5 1546.8,328.5 1547.5,328.6 1548.2,328.6 1548.9,328.6 1549.6,328.6 1550.3,328.6 1551.0,328.7 1551.7,328.7 1552.4,328.7 1553.1,328.8 1553.8,328.8 1554.5,328.8 1555.2,328.8 1555.9,328.9 1556.6,328.9 1557.3,328.9 1558.0,329.0 1558.7,329.0 1559.4,329.0 1560.1,329.1 1560.8,329.1 1561.5,329.2 1562.2,329.2 1562.9,329.3 1563.6,329.3 1564.3,329.4 1565.0,329.5 1565.7,329.5 1566.4,329.6 1567.1,329.7 1567.8,329.7 1568.5,329.8 1569.2,329.9 1569.9,330.0 1570.6,330.0 1571.3,330.1 1572.0,330.2 1572.7,330.2 1573.4,330.3 1574.1,330.4 1574.8,330.5 1575.5,330.5 1576.2,330.6 1576.9,330.7 1577.6,330.7 1578.3,330.8 1579.0,330.8 1579.7,330.9 1580.4,330.9 1581.1,331.0 1581.8,331.0 1582.5,331.1 1583.2,331.1 1583.9,331.1 1584.6,331.2 1585.3,331.2 1586.0,331.2 1586.7,331.3 1587.4,331.3 1588.1,331.3 1588.8,331.4 1589.5,331.4 1590.2,331.4 1590.9,331.5 1591.6,331.5 1592.3,331.5 1593.0,331.6 1593.7,331.6 1594.4,331.6 1595.1,331.7 1595.8,331.7 1596.5,331.7 1597.2,331.7 1597.9,331.8 1598.6,331.8 1599.3,331.8 1600.0,331.8 1600.7,331.9 1601.4,331.9 1602.1,331.9 1602.8,331.9 1603.5,332.0 1604.2,332.0 1604.9,332.0 1605.6,332.0 1606.3,332.1 1607.0,332.1 1607.7,332.1 1608.4,332.1 1609.1,332.2 1609.8,332.2 1610.5,332.2 1611.2,332.2 1611.9,332.3 1612.6,332.3 1613.3,332.3 1614.0,332.3 1614.7,332.3 1615.4,332.4 1616.1,332.4 1616.8,332.4 1617.5,332.4 1618.2,332.4 1618.9,332.5 1619.6,332.5 1620.3,332.5 1621.0,332.5 1621.7,332.6 1622.4,332.6 1623.1,332.6 1623.8,332.6 1624.5,332.6 1625.2,332.7 1625.9,332.7 1626.6,332.7 1627.3,332.7 1628.0,332.8 1628.7,332.8 1629.4,332.8 1630.1,332.8 1630.8,332.9 1631.5,332.9 1632.2,332.9 1632.9,333.0 1633.6,333.0 1634.3,333.0 1635.0,333.0 1635.7,333.1 1636.4,333.1 1637.1,333.1 1637.8,333.1 1638.5,333.2 1639.2,333.2 1639.9,333.2 1640.6,333.3 1641.3,333.3 1642.0,333.3 1642.7,333.3 1643.4,333.4 1644.1,333.4 1644.8,333.4 1645.5,333.5 1646.2,333.5 1646.9,333.5 1647.6,333.5 1648.3,333.6 1649.0,333.6 1649.7,333.6 1650.4,333.7 1651.1,333.7 1651.8,333.7 1652.5,333.8 1653.2,333.8 1653.9,333.8 1654.6,333.9 1655.3,333.9 1656.0,333.9 1656.7,333.9 1657.4,334.0 1658.1,334.0 1658.8,334.0 1659.5,334.1 1660.2,334.1 1660.9,334.1 1661.6,334.2 1662.3,334.2 1663.0,334.2 1663.7,334.2 1664.4,334.3 1665.1,334.3 1665.8,334.3 1666.5,334.4 1667.2,334.4 1667.9,334.4 1668.6,334.5 1669.3,334.5 1670.0,334.5 1670.7,334.6 1671.4,334.6 1672.1,334.6 1672.8,334.6 1673.5,334.7 1674.2,334.7 1674.9,334.7 1675.6,334.8 1676.3,334.8 1677.0,334.8 1677.7,334.8 1678.4,334.9 1679.1,334.9 1679.8,334.9 1680.5,335.0 1681.2,335.0 1681.9,335.0 1682.6,335.0 1683.3,335.1 1684.0,335.1 1684.7,335.1 1685.4,335.2 1686.1,335.2 1686.8,335.2 1687.5,335.2 1688.2,335.3 1688.9,335.3 1689.6,335.3 1690.3,335.3 1691.0,335.4 1691.7,335.4 1692.4,335.4 1693.1,335.5 1693.8,335.5 1694.5,335.5 1695.2,335.5 1695.9,335.6 1696.6,335.6 1697.3,335.6 1698.0,335.6 1698.7,335.6 1699.4,335.7 1700.1,335.7 1700.8,335.7 1701.5,335.7 1702.2,335.8 1702.9,335.8 1703.6,335.8 1704.3,335.8 1705.0,335.9 1705.7,335.9 1706.4,335.9 1707.1,335.9 1707.8,336.0 1708.5,336.0 1709.2,336.0 1709.9,336.0 1710.6,336.0 1711.3,336.1 1712.0,336.1 1712.7,336.1 1713.4,336.1 1714.1,336.2 1714.8,336.2 1715.5,336.2 1716.2,336.2 1716.9,336.3 1717.6,336.3 1718.3,336.3 1719.0,336.3 1719.7,336.3 1720.4,336.4 1721.1,336.4 1721.8,336.4 1722.5,336.4 1723.2,336.5 1723.9,336.5 1724.6,336.5 1725.3,336.5 1726.0,336.6 1726.7,336.6 1727.4,336.6 1728.1,336.6 1728.8,336.6 1729.5,336.7 1730.2,336.7 1730.9,336.7 1731.6,336.7 1732.3,336.8 1733.0,336.8 1733.7,336.8 1734.4,336.8 1735.1,336.9 1735.8,336.9 1736.5,336.9 1737.2,336.9 1737.9,337.0 1738.6,337.0 1739.3,337.0 1740.0,337.0 1740.7,337.1 1741.4,337.1 1742.1,337.1 1742.8,337.2 1743.5,337.2 1744.2,337.2 1744.9,337.2 1745.6,337.3 1746.3,337.3 1747.0,337.3 1747.7,337.4 1748.4,337.4 1749.1,337.4 1749.8,337.4 1750.5,337.5 1751.2,337.5 1751.9,337.5 1752.6,337.6 1753.3,337.6 1754.0,337.6 1754.7,337.7 1755.4,337.7 1756.1,337.7 1756.8,337.7 1757.5,337.8 1758.2,337.8 1758.9,337.8 1759.6,337.9 1760.3,337.9 1761.0,337.9 1761.7,338.0 1762.4,338.0 1763.1,338.1 1763.8,338.1 1764.5,338.1 1765.2,338.2 1765.9,338.2 1766.6,338.3 1767.3,338.3 1768.0,338.4 1768.7,338.4 1769.4,338.4 1770.1,338.5 1770.8,338.5 1771.5,338.6 1772.2,338.6 1772.9,338.7 1773.6,338.7 1774.3,338.8 1775.0,338.8 1775.7,338.9 1776.4,338.9 1777.1,339.0 1777.8,339.0 1778.5,339.1 1779.2,339.1 1779.9,339.2 1780.6,339.2 1781.3,339.2 1782.0,339.3 1782.7,339.3 1783.4,339.4 1784.1,339.4 1784.8,339.5 1785.5,339.5 1786.2,339.6 1786.9,339.6 1787.6,339.6 1788.3,339.7 1789.0,339.7 1789.7,339.8 1790.4,339.8 1791.1,339.9 1791.8,339.9 1792.5,339.9 1793.2,340.0 1793.9,340.0 1794.6,340.1 1795.3,340.1 1796.0,340.1 1796.7,340.2 1797.4,340.2 1798.1,340.3 1798.8,340.3 1799.5,340.4 1800.2,340.4 1800.9,340.4 1801.6,340.5 1802.3,340.5 1803.0,340.6 1803.7,340.6 1804.4,340.6 1805.1,340.7 1805.8,340.7 1806.5,340.8 1807.2,340.8 1807.9,340.8 1808.6,340.9 1809.3,340.9 1810.0,341.0 1810.7,341.0 1811.4,341.1 1812.1,341.1 1812.8,341.1 1813.5,341.2 1814.2,341.2 1814.9,341.3 1815.6,341.3 1816.3,341.4 1817.0,341.4 1817.7,341.5 1818.4,341.5 1819.1,341.6 1819.8,341.6 1820.5,341.7 1821.2,341.7 1821.9,341.7 1822.6,341.8 1823.3,341.8 1824.0,341.9 1824.7,341.9 1825.4,342.0 1826.1,342.0 1826.8,342.1 1827.5,342.1 1828.2,342.2 1828.9,342.2 1829.6,342.3 1830.3,342.3 1831.0,342.4 1831.7,342.4 1832.4,342.5 1833.1,342.5 1833.8,342.6 1834.5,342.6 1835.2,342.7 1835.9,342.7 1836.6,342.8 1837.3,342.8 1838.0,342.8 1838.7,342.9 1839.4,342.9 1840.1,343.0 1840.8,343.0 1841.5,343.1 1842.2,343.1 1842.9,343.1 1843.6,343.2 1844.3,343.2 1845.0,343.3 1845.7,343.3 1846.4,343.3 1847.1,343.4 1847.8,343.4 1848.5,343.5 1849.2,343.5 1849.9,343.5 1850.6,343.6 1851.3,343.6 1852.0,343.7 1852.7,343.7 1853.4,343.7 1854.1,343.8 1854.8,343.8 1855.5,343.9 1856.2,343.9 1856.9,343.9 1857.6,344.0 1858.3,344.0 1859.0,344.0 1859.7,344.1 1860.4,344.1 1861.1,344.1 1861.8,344.2 1862.5,344.2 1863.2,344.2 1863.9,344.3 1864.6,344.3 1865.3,344.3 1866.0,344.3 1866.7,344.4 1867.4,344.4 1868.1,344.4 1868.8,344.5 1869.5,344.5 1870.2,344.5 1870.9,344.5 1871.6,344.6 1872.3,344.6 1873.0,344.6 1873.7,344.6 1874.4,344.6 1875.1,344.7 1875.8,344.7 1876.5,344.7 1877.2,344.7 1877.9,344.7 1878.6,344.8 1879.3,344.8 1880.0,344.8 1880.7,344.8 1881.4,344.8 1882.1,344.9 1882.8,344.9 1883.5,344.9 1884.2,344.9 1884.9,344.9 1885.6,344.9 1886.3,345.0 1887.0,345.0 1887.7,345.0 1888.4,345.0 1889.1,345.0 1889.8,345.1 1890.5,345.1 1891.2,345.1 1891.9,345.1 1892.6,345.1 1893.3,345.2 1894.0,345.2 1894.7,345.2 1895.4,345.2 1896.1,345.3 1896.8,345.3 1897.5,345.3 1898.2,345.3 1898.9,345.3 1899.6,345.4 1900.3,345.4 1901.0,345.4 1901.7,345.4 1902.4,345.4 1903.1,345.5 1903.8,345.5 1904.5,345.5 1905.2,345.6 1905.9,345.6 1906.6,345.6 1907.3,345.7 1908.0,345.7 1908.7,345.8 1909.4,345.9 1910.1,346.0 1910.8,346.2 1911.5,346.4 1912.2,346.6 1912.9,346.7 1913.6,347.0 1914.3,347.2 1915.0,347.4 1915.7,347.6 1916.4,347.9 1917.1,348.2 1917.8,348.5 1918.5,348.8 1919.2,349.2 1919.9,349.6 1920.6,350.0 1921.3,350.4 1922.0,350.8 1922.7,351.3 1923.4,351.7 1924.1,352.2 1924.8,352.6 1925.5,353.1 1926.2,353.6 1926.9,354.1 1927.6,354.7 1928.3,355.2 1929.0,355.7 1929.7,356.3 1930.4,356.8 1931.1,357.4 1931.8,357.9 1932.5,358.4 1933.2,358.9 1933.9,359.5 1934.6,360.0 1935.3,360.5 1936.0,361.1 1936.7,361.6 1937.4,362.1 1938.1,362.6 1938.8,363.1 1939.5,363.5 1940.2,363.9 1940.9,364.3 1941.6,364.7 1942.3,365.1 1943.0,365.5 1943.7,365.9 1944.4,366.2 1945.1,366.6 1945.8,366.9 1946.5,367.2 1947.2,367.5 1947.9,367.7 1948.6,368.0 1949.3,368.2 1950.0,368.4 1950.7,368.6 1951.4,368.8 1952.1,369.0 1952.8,369.2 1953.5,369.4 1954.2,369.5 1954.9,369.7 1955.6,369.8 1956.3,370.0 1957.0,370.1 1957.7,370.2 1958.4,370.4 1959.1,370.5 1959.8,370.6 1960.5,370.7 1961.2,370.8 1961.9,370.9 1962.6,371.0 1963.3,371.1 1964.0,371.1 1964.7,371.2" fill="none" stroke="#e60012" stroke-width="3.0" stroke-linejoin="round" stroke-linecap="butt"/>
<rect x="1397.6" y="19.9" width="567.2" height="421.1" fill="none" stroke="#000" stroke-width="2.9"/>
<line x1="1511.4" y1="441.0" x2="1511.4" y2="432.8" stroke="#000" stroke-width="3.2" stroke-linecap="butt"/>
<line x1="1624.8" y1="441.0" x2="1624.8" y2="432.8" stroke="#000" stroke-width="3.2" stroke-linecap="butt"/>
<line x1="1738.2" y1="441.0" x2="1738.2" y2="432.8" stroke="#000" stroke-width="3.2" stroke-linecap="butt"/>
<line x1="1851.6" y1="441.0" x2="1851.6" y2="432.8" stroke="#000" stroke-width="3.2" stroke-linecap="butt"/>
<line x1="1454.7" y1="441.0" x2="1454.7" y2="436.7" stroke="#000" stroke-width="3.2" stroke-linecap="butt"/>
<line x1="1568.1" y1="441.0" x2="1568.1" y2="436.7" stroke="#000" stroke-width="3.2" stroke-linecap="butt"/>
<line x1="1681.5" y1="441.0" x2="1681.5" y2="436.7" stroke="#000" stroke-width="3.2" stroke-linecap="butt"/>
<line x1="1794.9" y1="441.0" x2="1794.9" y2="436.7" stroke="#000" stroke-width="3.2" stroke-linecap="butt"/>
<line x1="1908.3" y1="441.0" x2="1908.3" y2="436.7" stroke="#000" stroke-width="3.2" stroke-linecap="butt"/>
<text transform="translate(1398.5,472.0) scale(1.02,1)" font-size="34" text-anchor="middle" textLength="55.4" lengthAdjust="spacing">300</text>
<text transform="translate(1511.9,472.0) scale(1.02,1)" font-size="34" text-anchor="middle" textLength="55.4" lengthAdjust="spacing">400</text>
<text transform="translate(1625.3,472.0) scale(1.02,1)" font-size="34" text-anchor="middle" textLength="55.4" lengthAdjust="spacing">500</text>
<text transform="translate(1738.7,472.0) scale(1.02,1)" font-size="34" text-anchor="middle" textLength="55.4" lengthAdjust="spacing">600</text>
<text transform="translate(1852.1,472.0) scale(1.02,1)" font-size="34" text-anchor="middle" textLength="55.4" lengthAdjust="spacing">700</text>
<text transform="translate(1965.5,472.0) scale(1.02,1)" font-size="34" text-anchor="middle" textLength="55.4" lengthAdjust="spacing">800</text>
<text transform="translate(1336.0,32.0) scale(1.08,1)" font-size="34" text-anchor="start" textLength="39.4" lengthAdjust="spacing"><tspan font-size="35.4">(</tspan>c<tspan font-size="35.4">)</tspan></text>
<text transform="translate(1368.0,436.0) rotate(-90) scale(1.08,1)" font-size="34" text-anchor="start" textLength="366.2" lengthAdjust="spacing">Absorbance <tspan font-size="35.4">(</tspan>arb. units<tspan font-size="35.4">)</tspan></text>
<text transform="translate(1523.5,512.8) scale(1.08,1)" font-size="34" text-anchor="start" textLength="262.0" lengthAdjust="spacing">Wavelength <tspan font-size="35.4">(</tspan>nm<tspan font-size="35.4">)</tspan></text>
<line x1="1548.1" y1="51.1" x2="1602.7" y2="51.1" stroke="#e60012" stroke-width="3.4" stroke-linecap="butt"/>
<line x1="1548.1" y1="91.7" x2="1602.7" y2="91.7" stroke="#000" stroke-width="3.4" stroke-linecap="butt"/>
<text transform="translate(1612.7,63.3) scale(1.08,1)" font-size="30" text-anchor="start" textLength="273.1" lengthAdjust="spacing"><tspan dy="0.0" font-size="30.0">MAPbI</tspan><tspan dy="5.2" font-size="21.0">3</tspan><tspan dy="-0.5" font-size="45.0">+</tspan><tspan dy="-4.8" font-size="30.0">BMIMBF</tspan><tspan dy="5.2" font-size="21.0">4</tspan></text>
<text transform="translate(1612.7,105.6) scale(1.08,1)" font-size="30" text-anchor="start" textLength="183.3" lengthAdjust="spacing"><tspan dy="0.0" font-size="30.0">Pure MAPbI</tspan><tspan dy="5.2" font-size="21.0">3</tspan></text>
</g>
</svg>
</body>
</html>
